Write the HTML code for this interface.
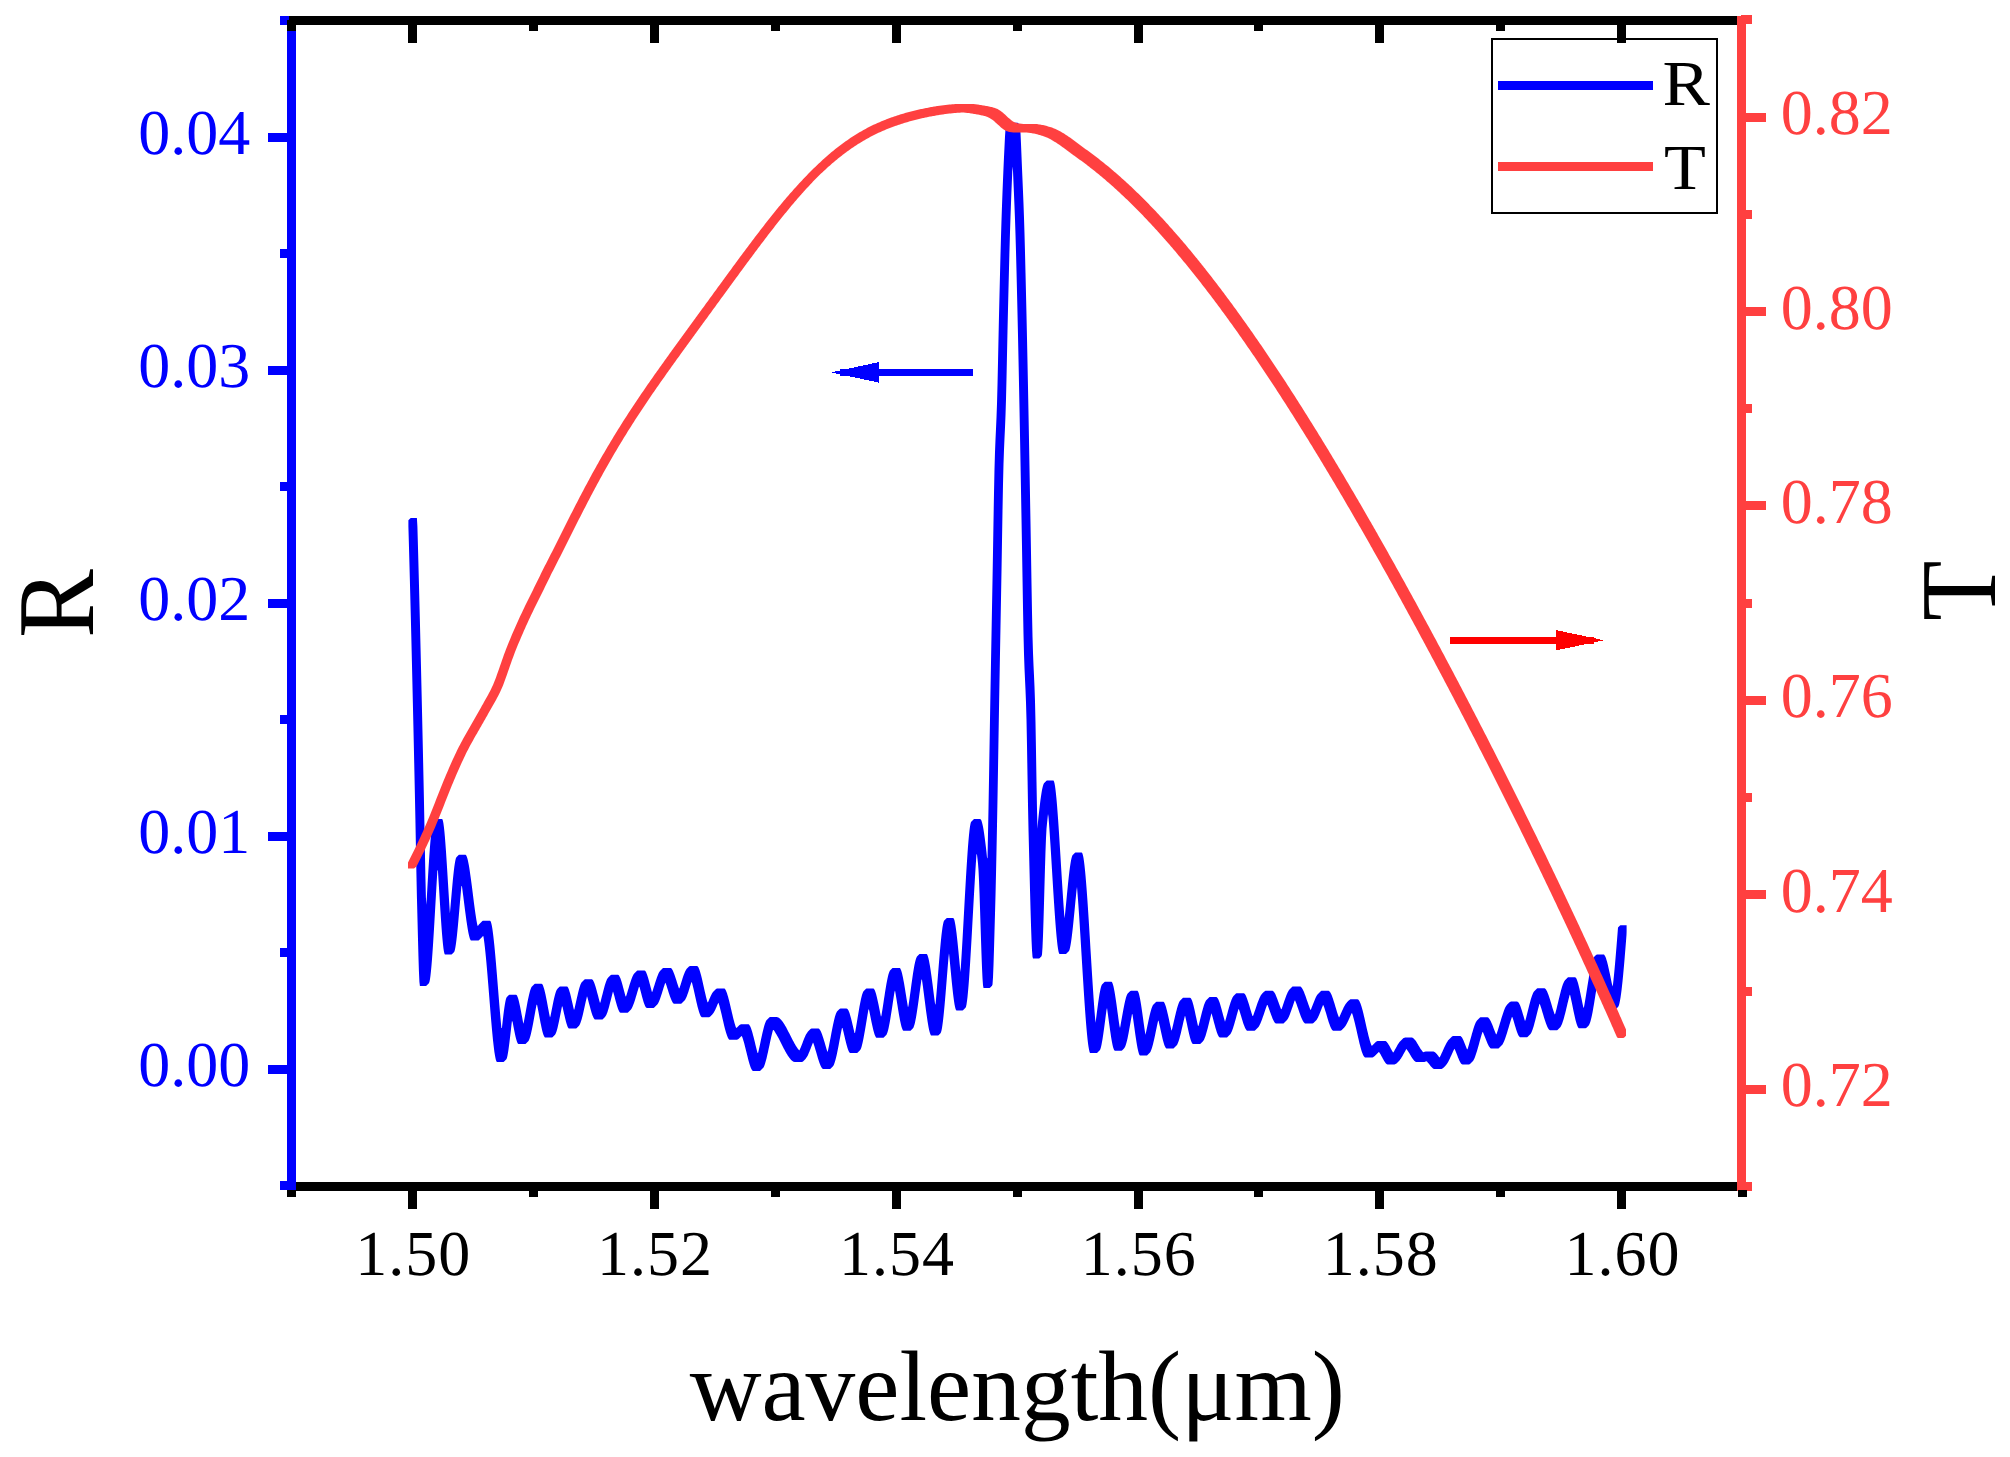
<!DOCTYPE html>
<html lang="en"><head><meta charset="utf-8"><title>R and T vs wavelength</title>
<style>html,body{margin:0;padding:0;background:#fff}body{width:2010px;height:1457px;overflow:hidden}svg{display:block}</style>
</head><body>
<svg width="2010" height="1457" viewBox="0 0 2010 1457" shape-rendering="crispEdges">
<rect width="2010" height="1457" fill="#fff"/>
<g shape-rendering="geometricPrecision" stroke="none">
<path d="M408.4,520.2 L408.9,519.7 L409.4,519.2 L409.9,518.7 L410.4,518.2 L410.9,517.9 L411.4,517.9 L411.9,517.9 L412.4,517.9 L412.9,517.9 L413.4,517.9 L413.9,517.9 L414.4,517.9 L414.9,517.9 L415.4,517.9 L415.9,517.9 L416.4,517.9 L416.9,517.9 L417.4,526.6 L417.9,544.6 L418.4,563.1 L418.9,582.1 L419.4,601.6 L419.9,621.6 L420.4,642.3 L420.9,663.3 L421.4,684.8 L421.9,706.6 L422.4,728.7 L422.9,751.3 L423.4,774.4 L423.9,798.1 L424.4,823.9 L424.9,850.9 L425.4,876.4 L425.9,897.5 L426.4,904.8 L426.9,896.1 L427.4,887.3 L427.9,878.8 L428.4,870.4 L428.9,862.4 L429.4,854.8 L429.9,847.8 L430.4,841.4 L430.9,835.7 L431.4,830.8 L431.9,826.9 L432.4,823.9 L432.9,822.1 L433.4,821.4 L433.9,820.9 L434.4,820.4 L434.9,819.9 L435.4,819.4 L435.9,819.1 L436.4,819.1 L436.9,819.1 L437.4,819.1 L437.9,819.1 L438.4,819.1 L438.9,819.1 L439.4,819.1 L439.9,819.1 L440.4,819.1 L440.9,819.1 L441.4,819.1 L441.9,819.1 L442.4,819.3 L442.9,820.7 L443.4,823.2 L443.9,826.9 L444.4,831.6 L444.9,837.1 L445.4,843.4 L445.9,850.3 L446.4,857.7 L446.9,865.5 L447.4,873.5 L447.9,881.7 L448.4,889.9 L448.9,897.9 L449.4,905.8 L449.9,913.2 L450.4,907.8 L450.9,902.0 L451.4,896.2 L451.9,890.5 L452.4,884.9 L452.9,879.6 L453.4,874.7 L453.9,870.2 L454.4,866.2 L454.9,862.9 L455.4,860.2 L455.9,858.3 L456.4,857.2 L456.9,856.7 L457.4,856.2 L457.9,855.7 L458.4,855.2 L458.9,854.8 L459.4,854.8 L459.9,854.8 L460.4,854.8 L460.9,854.8 L461.4,854.8 L461.9,854.8 L462.4,854.8 L462.9,854.8 L463.4,854.8 L463.9,854.8 L464.4,854.8 L464.9,854.8 L465.4,854.8 L465.9,855.0 L466.4,855.7 L466.9,856.9 L467.4,858.5 L467.9,860.5 L468.4,862.9 L468.9,865.6 L469.4,868.6 L469.9,871.9 L470.4,875.4 L470.9,879.0 L471.4,882.8 L471.9,886.6 L472.4,890.6 L472.9,894.5 L473.4,898.5 L473.9,902.4 L474.4,906.2 L474.9,909.9 L475.4,913.4 L475.9,916.8 L476.4,919.9 L476.9,922.7 L477.4,925.2 L477.9,925.9 L478.4,925.2 L478.9,924.5 L479.4,923.9 L479.9,923.4 L480.4,922.9 L480.9,922.4 L481.4,921.9 L481.9,921.4 L482.4,921.1 L482.9,920.8 L483.4,920.7 L483.9,920.7 L484.4,920.7 L484.9,920.7 L485.4,920.7 L485.9,920.7 L486.4,920.7 L486.9,920.7 L487.4,920.7 L487.9,920.7 L488.4,920.7 L488.9,920.7 L489.4,920.7 L489.9,920.7 L490.4,921.0 L490.9,922.0 L491.4,923.8 L491.9,926.1 L492.4,929.1 L492.9,932.7 L493.4,936.7 L493.9,941.2 L494.4,946.0 L494.9,951.2 L495.4,956.7 L495.9,962.5 L496.4,968.4 L496.9,974.5 L497.4,980.7 L497.9,987.0 L498.4,993.3 L498.9,999.5 L499.4,1005.6 L499.9,1011.5 L500.4,1017.3 L500.9,1022.8 L501.4,1028.0 L501.9,1028.1 L502.4,1023.7 L502.9,1019.3 L503.4,1015.1 L503.9,1011.1 L504.4,1007.5 L504.9,1004.2 L505.4,1001.5 L505.9,999.3 L506.4,997.8 L506.9,997.0 L507.4,996.5 L507.9,996.0 L508.4,995.5 L508.9,995.0 L509.4,994.7 L509.9,994.7 L510.4,994.7 L510.9,994.7 L511.4,994.7 L511.9,994.7 L512.5,994.7 L513.0,994.7 L513.5,994.7 L514.0,994.7 L514.5,994.7 L515.0,994.7 L515.5,994.7 L516.0,994.7 L516.5,994.9 L517.0,995.6 L517.5,996.7 L518.0,998.1 L518.5,999.8 L519.0,1001.7 L519.5,1003.9 L520.0,1006.3 L520.5,1008.8 L521.0,1011.3 L521.5,1014.0 L522.0,1016.6 L522.5,1019.3 L523.0,1021.9 L523.5,1023.7 L524.0,1021.1 L524.5,1018.5 L525.0,1015.8 L525.5,1013.0 L526.0,1010.2 L526.5,1007.5 L527.0,1004.8 L527.5,1002.1 L528.0,999.6 L528.5,997.2 L529.0,995.0 L529.5,992.9 L530.0,991.1 L530.5,989.5 L531.0,988.2 L531.5,987.1 L532.0,986.4 L532.5,985.9 L533.0,985.4 L533.5,984.9 L534.0,984.4 L534.5,984.0 L535.0,983.8 L535.5,983.8 L536.0,983.8 L536.5,983.8 L537.0,983.8 L537.5,983.8 L538.0,983.8 L538.5,983.8 L539.0,983.8 L539.5,983.8 L540.0,983.8 L540.5,983.8 L541.0,983.8 L541.5,983.8 L542.0,984.0 L542.5,984.6 L543.0,985.6 L543.5,986.9 L544.0,988.5 L544.5,990.3 L545.0,992.4 L545.5,994.6 L546.0,997.0 L546.5,999.5 L547.0,1002.1 L547.5,1004.7 L548.0,1007.4 L548.5,1010.1 L549.0,1012.7 L549.5,1015.2 L550.0,1017.6 L550.5,1016.0 L551.0,1013.5 L551.5,1011.0 L552.0,1008.4 L552.5,1005.9 L553.0,1003.5 L553.5,1001.1 L554.0,998.8 L554.5,996.7 L555.0,994.7 L555.5,993.0 L556.0,991.5 L556.5,990.3 L557.0,989.4 L557.5,988.8 L558.0,988.3 L558.5,987.8 L559.0,987.3 L559.5,986.8 L560.0,986.4 L560.5,986.4 L561.0,986.4 L561.5,986.4 L562.0,986.4 L562.5,986.4 L563.0,986.4 L563.5,986.4 L564.0,986.4 L564.5,986.4 L565.0,986.4 L565.5,986.4 L566.0,986.4 L566.5,986.4 L567.0,986.4 L567.5,986.8 L568.0,987.5 L568.5,988.5 L569.0,989.8 L569.5,991.4 L570.0,993.1 L570.5,995.0 L571.0,997.0 L571.5,999.2 L572.0,1001.4 L572.5,1003.6 L573.0,1005.8 L573.5,1008.0 L574.0,1010.1 L574.5,1008.8 L575.0,1006.6 L575.5,1004.3 L576.0,1002.1 L576.5,999.8 L577.0,997.6 L577.5,995.4 L578.0,993.3 L578.5,991.2 L579.0,989.3 L579.5,987.6 L580.0,986.0 L580.5,984.6 L581.0,983.4 L581.5,982.5 L582.0,981.9 L582.5,981.4 L583.0,980.9 L583.5,980.4 L584.0,979.9 L584.5,979.4 L585.0,979.2 L585.5,979.2 L586.0,979.2 L586.5,979.2 L587.0,979.2 L587.5,979.2 L588.0,979.2 L588.5,979.2 L589.0,979.2 L589.5,979.2 L590.0,979.2 L590.5,979.2 L591.0,979.2 L591.5,979.2 L592.0,979.3 L592.5,979.7 L593.0,980.3 L593.5,981.2 L594.0,982.3 L594.5,983.6 L595.0,985.0 L595.5,986.6 L596.0,988.2 L596.5,990.0 L597.0,991.9 L597.5,993.7 L598.0,995.6 L598.5,997.5 L599.0,999.4 L599.5,1001.2 L600.0,1002.9 L600.5,1001.9 L601.0,1000.0 L601.5,998.1 L602.0,996.1 L602.5,994.2 L603.0,992.2 L603.5,990.3 L604.0,988.4 L604.5,986.6 L605.0,984.8 L605.5,983.2 L606.0,981.8 L606.5,980.5 L607.0,979.3 L607.5,978.4 L608.0,977.7 L608.5,977.2 L609.0,976.7 L609.5,976.2 L610.0,975.7 L610.5,975.2 L611.0,974.9 L611.5,974.8 L612.0,974.8 L612.5,974.8 L613.0,974.8 L613.5,974.8 L614.0,974.8 L614.5,974.8 L615.0,974.8 L615.5,974.8 L616.0,974.8 L616.5,974.8 L617.0,974.8 L617.5,974.8 L618.0,974.8 L618.5,975.0 L619.0,975.6 L619.5,976.4 L620.0,977.4 L620.5,978.6 L621.0,980.1 L621.5,981.6 L622.0,983.3 L622.5,985.1 L623.0,986.9 L623.5,988.8 L624.0,990.7 L624.5,992.6 L625.0,994.4 L625.5,996.2 L626.0,996.6 L626.5,995.0 L627.0,993.4 L627.5,991.7 L628.0,990.1 L628.5,988.4 L629.0,986.7 L629.5,985.0 L630.0,983.4 L630.5,981.9 L631.0,980.4 L631.5,979.0 L632.0,977.7 L632.5,976.5 L633.0,975.5 L633.5,974.6 L634.0,973.8 L634.5,973.3 L635.0,972.8 L635.5,972.3 L636.0,971.8 L636.5,971.3 L637.0,970.8 L637.5,970.6 L638.0,970.5 L638.5,970.5 L639.0,970.5 L639.5,970.5 L640.0,970.5 L640.5,970.5 L641.0,970.5 L641.5,970.5 L642.0,970.5 L642.5,970.5 L643.0,970.5 L643.5,970.5 L644.0,970.5 L644.5,970.5 L645.0,970.7 L645.5,971.3 L646.0,972.1 L646.5,973.2 L647.0,974.5 L647.5,975.9 L648.0,977.5 L648.5,979.3 L649.0,981.1 L649.5,982.9 L650.0,984.8 L650.5,986.8 L651.0,988.6 L651.5,990.4 L652.0,992.2 L652.5,991.2 L653.0,989.7 L653.5,988.1 L654.0,986.5 L654.5,984.9 L655.0,983.3 L655.5,981.7 L656.0,980.2 L656.5,978.7 L657.0,977.3 L657.5,975.9 L658.0,974.7 L658.5,973.6 L659.0,972.6 L659.5,971.8 L660.0,971.1 L660.5,970.6 L661.0,970.1 L661.5,969.6 L662.0,969.1 L662.5,968.6 L663.0,968.1 L663.5,967.9 L664.0,967.9 L664.5,967.9 L665.0,967.9 L665.5,967.9 L666.0,967.9 L666.5,967.9 L667.0,967.9 L667.5,967.9 L668.0,967.9 L668.5,967.9 L669.0,967.9 L669.5,967.9 L670.0,967.9 L670.5,967.9 L671.0,968.1 L671.5,968.6 L672.0,969.2 L672.5,970.0 L673.0,971.0 L673.5,972.2 L674.0,973.4 L674.5,974.8 L675.0,976.2 L675.5,977.7 L676.0,979.2 L676.5,980.8 L677.0,982.4 L677.5,984.0 L678.0,985.5 L678.5,987.0 L679.0,988.4 L679.5,988.1 L680.0,986.6 L680.5,985.0 L681.0,983.4 L681.5,981.8 L682.0,980.2 L682.5,978.6 L683.0,977.1 L683.5,975.6 L684.0,974.2 L684.5,973.0 L685.0,971.8 L685.5,970.7 L686.0,969.9 L686.5,969.1 L687.0,968.6 L687.5,968.1 L688.0,967.6 L688.5,967.1 L689.0,966.6 L689.5,966.2 L690.0,965.9 L690.5,965.9 L691.0,965.9 L691.5,965.9 L692.0,965.9 L692.5,965.9 L693.0,965.9 L693.5,965.9 L694.0,965.9 L694.5,965.9 L695.0,965.9 L695.5,965.9 L696.0,965.9 L696.5,965.9 L697.0,965.9 L697.5,966.2 L698.0,966.8 L698.5,967.6 L699.0,968.7 L699.5,970.0 L700.0,971.5 L700.5,973.2 L701.0,975.1 L701.5,977.0 L702.0,979.1 L702.5,981.2 L703.0,983.4 L703.5,985.7 L704.0,987.9 L704.5,990.2 L705.0,992.4 L705.5,994.6 L706.0,996.7 L706.5,998.7 L707.0,1000.6 L707.5,1002.3 L708.0,1002.3 L708.5,1001.2 L709.0,1000.0 L709.5,998.8 L710.0,997.7 L710.5,996.6 L711.0,995.5 L711.5,994.5 L712.0,993.6 L712.5,992.8 L713.0,992.1 L713.5,991.5 L714.0,991.0 L714.5,990.5 L715.0,990.0 L715.5,989.5 L716.0,989.0 L716.5,988.7 L717.0,988.4 L717.5,988.4 L718.0,988.4 L718.5,988.4 L719.0,988.4 L719.5,988.4 L720.0,988.4 L720.5,988.4 L721.0,988.4 L721.5,988.4 L722.0,988.4 L722.5,988.4 L723.0,988.4 L723.5,988.4 L724.0,988.4 L724.5,988.6 L725.0,989.1 L725.5,989.8 L726.0,990.8 L726.5,992.0 L727.0,993.3 L727.5,994.9 L728.0,996.6 L728.5,998.4 L729.0,1000.3 L729.5,1002.3 L730.0,1004.4 L730.5,1006.5 L731.0,1008.7 L731.5,1010.8 L732.0,1013.0 L732.5,1015.1 L733.0,1017.2 L733.5,1019.2 L734.0,1021.1 L734.5,1022.9 L735.0,1024.6 L735.5,1026.2 L736.0,1027.5 L736.5,1028.0 L737.0,1027.5 L737.5,1027.0 L738.0,1026.5 L738.5,1026.0 L739.0,1025.5 L739.5,1025.1 L740.0,1024.8 L740.5,1024.5 L741.0,1024.3 L741.5,1024.2 L742.0,1024.2 L742.5,1024.2 L743.0,1024.2 L743.5,1024.2 L744.0,1024.2 L744.5,1024.2 L745.0,1024.2 L745.5,1024.2 L746.0,1024.2 L746.5,1024.2 L747.0,1024.2 L747.5,1024.2 L748.0,1024.2 L748.5,1024.2 L749.0,1024.6 L749.5,1025.2 L750.0,1026.0 L750.5,1027.1 L751.0,1028.3 L751.5,1029.7 L752.0,1031.3 L752.5,1033.0 L753.0,1034.9 L753.5,1036.8 L754.0,1038.8 L754.5,1040.8 L755.0,1042.8 L755.5,1044.9 L756.0,1046.9 L756.5,1048.9 L757.0,1050.9 L757.5,1052.8 L758.0,1053.3 L758.5,1051.2 L759.0,1049.0 L759.5,1046.7 L760.0,1044.4 L760.5,1042.0 L761.0,1039.6 L761.5,1037.3 L762.0,1035.0 L762.5,1032.8 L763.0,1030.7 L763.5,1028.7 L764.0,1026.8 L764.5,1025.1 L765.0,1023.5 L765.5,1022.2 L766.0,1021.1 L766.5,1020.2 L767.0,1019.7 L767.5,1019.2 L768.0,1018.7 L768.5,1018.2 L769.0,1017.7 L769.5,1017.2 L770.0,1017.1 L770.5,1017.1 L771.0,1017.1 L771.5,1017.1 L772.0,1017.1 L772.5,1017.1 L773.0,1017.1 L773.5,1017.1 L774.0,1017.1 L774.5,1017.1 L775.0,1017.1 L775.5,1017.1 L776.0,1017.1 L776.5,1017.1 L777.0,1017.1 L777.5,1017.2 L778.0,1017.4 L778.5,1017.6 L779.0,1017.9 L779.5,1018.3 L780.0,1018.7 L780.5,1019.2 L781.0,1019.7 L781.5,1020.3 L782.0,1020.9 L782.5,1021.5 L783.0,1022.2 L783.5,1023.0 L784.0,1023.8 L784.5,1024.6 L785.0,1025.4 L785.5,1026.3 L786.0,1027.1 L786.5,1028.1 L787.0,1029.0 L787.5,1029.9 L788.0,1030.9 L788.5,1031.9 L789.0,1032.8 L789.5,1033.8 L790.0,1034.8 L790.5,1035.8 L791.0,1036.8 L791.5,1037.8 L792.0,1038.7 L792.5,1039.7 L793.0,1040.7 L793.5,1041.6 L794.0,1042.5 L794.5,1043.4 L795.0,1044.3 L795.5,1045.2 L796.0,1046.0 L796.5,1046.8 L797.0,1047.6 L797.5,1048.3 L798.0,1049.0 L798.5,1049.6 L799.0,1050.2 L799.5,1050.3 L800.0,1049.1 L800.5,1048.0 L801.0,1046.7 L801.5,1045.5 L802.0,1044.2 L802.5,1042.9 L803.0,1041.6 L803.5,1040.3 L804.0,1039.0 L804.5,1037.8 L805.0,1036.7 L805.5,1035.6 L806.0,1034.6 L806.5,1033.7 L807.0,1032.9 L807.5,1032.2 L808.0,1031.6 L808.5,1031.1 L809.0,1030.6 L809.5,1030.1 L810.0,1029.6 L810.5,1029.1 L811.0,1028.8 L811.5,1028.6 L812.0,1028.6 L812.5,1028.6 L813.0,1028.6 L813.5,1028.6 L814.0,1028.6 L814.5,1028.6 L815.0,1028.6 L815.5,1028.6 L816.0,1028.6 L816.5,1028.6 L817.0,1028.6 L817.5,1028.6 L818.0,1028.6 L818.5,1028.6 L819.0,1028.8 L819.5,1029.3 L820.0,1029.9 L820.5,1030.8 L821.0,1031.8 L821.5,1033.0 L822.0,1034.2 L822.5,1035.7 L823.0,1037.2 L823.5,1038.7 L824.0,1040.4 L824.5,1042.1 L825.0,1043.8 L825.5,1045.5 L826.0,1047.2 L826.5,1048.9 L827.0,1050.5 L827.5,1052.1 L828.0,1050.5 L828.5,1048.1 L829.0,1045.7 L829.5,1043.1 L830.0,1040.5 L830.5,1037.9 L831.0,1035.2 L831.5,1032.6 L832.0,1030.0 L832.5,1027.4 L833.0,1025.0 L833.5,1022.7 L834.0,1020.5 L834.5,1018.4 L835.0,1016.6 L835.5,1015.0 L836.0,1013.6 L836.5,1012.5 L837.0,1011.6 L837.5,1011.1 L838.0,1010.6 L838.5,1010.1 L839.0,1009.6 L839.5,1009.1 L840.0,1008.7 L840.5,1008.6 L841.0,1008.6 L841.5,1008.6 L842.0,1008.6 L842.5,1008.6 L843.0,1008.6 L843.5,1008.6 L844.0,1008.6 L844.5,1008.6 L845.0,1008.6 L845.5,1008.6 L846.0,1008.6 L846.5,1008.6 L847.0,1008.7 L847.5,1009.0 L848.0,1009.7 L848.5,1010.6 L849.0,1011.7 L849.5,1013.1 L850.0,1014.7 L850.5,1016.4 L851.0,1018.3 L851.5,1020.2 L852.0,1022.3 L852.5,1024.4 L853.0,1026.5 L853.5,1028.7 L854.0,1030.8 L854.5,1032.9 L855.0,1032.9 L855.5,1030.2 L856.0,1027.4 L856.5,1024.4 L857.0,1021.4 L857.5,1018.4 L858.0,1015.4 L858.5,1012.4 L859.0,1009.5 L859.5,1006.6 L860.0,1004.0 L860.5,1001.4 L861.0,999.1 L861.5,997.0 L862.0,995.1 L862.5,993.5 L863.0,992.2 L863.5,991.3 L864.0,990.8 L864.5,990.3 L865.0,989.8 L865.5,989.3 L866.0,988.8 L866.5,988.4 L867.0,988.4 L867.5,988.4 L868.0,988.4 L868.5,988.4 L869.0,988.4 L869.5,988.4 L870.0,988.4 L870.5,988.4 L871.0,988.4 L871.5,988.4 L872.0,988.4 L872.5,988.4 L873.0,988.4 L873.5,988.4 L874.0,988.9 L874.5,989.7 L875.0,990.8 L875.5,992.2 L876.0,993.8 L876.5,995.7 L877.0,997.7 L877.5,999.9 L878.0,1002.2 L878.5,1004.6 L879.0,1007.0 L879.5,1009.5 L880.0,1011.9 L880.5,1014.4 L881.0,1016.7 L881.5,1015.2 L882.0,1012.1 L882.5,1009.0 L883.0,1005.7 L883.5,1002.5 L884.0,999.1 L884.5,995.9 L885.0,992.6 L885.5,989.5 L886.0,986.4 L886.5,983.6 L887.0,980.9 L887.5,978.4 L888.0,976.2 L888.5,974.3 L889.0,972.7 L889.5,971.4 L890.0,970.6 L890.5,970.1 L891.0,969.6 L891.5,969.1 L892.0,968.6 L892.5,968.1 L893.0,967.9 L893.5,967.9 L894.0,967.9 L894.5,967.9 L895.0,967.9 L895.5,967.9 L896.0,967.9 L896.5,967.9 L897.0,967.9 L897.5,967.9 L898.0,967.9 L898.5,967.9 L899.0,967.9 L899.5,967.9 L900.0,968.1 L900.5,968.9 L901.0,970.0 L901.5,971.5 L902.0,973.3 L902.5,975.4 L903.0,977.8 L903.5,980.4 L904.0,983.1 L904.5,986.1 L905.0,989.1 L905.5,992.2 L906.0,995.3 L906.5,998.4 L907.0,1001.5 L907.5,1004.5 L908.0,1007.4 L908.5,1005.6 L909.0,1002.2 L909.5,998.7 L910.0,995.1 L910.5,991.4 L911.0,987.7 L911.5,984.1 L912.0,980.5 L912.5,977.0 L913.0,973.6 L913.5,970.5 L914.0,967.5 L914.5,964.8 L915.0,962.4 L915.5,960.4 L916.0,958.7 L916.5,957.4 L917.0,956.5 L917.5,956.0 L918.0,955.5 L918.5,955.0 L919.0,954.5 L919.5,954.0 L920.0,953.9 L920.5,953.9 L921.0,953.9 L921.5,953.9 L922.0,953.9 L922.5,953.9 L923.0,953.9 L923.5,953.9 L924.0,953.9 L924.5,953.9 L925.0,953.9 L925.5,953.9 L926.0,953.9 L926.5,953.9 L927.0,954.3 L927.5,955.3 L928.0,956.7 L928.5,958.6 L929.0,960.8 L929.5,963.4 L930.0,966.3 L930.5,969.5 L931.0,972.9 L931.5,976.5 L932.0,980.3 L932.5,984.1 L933.0,988.0 L933.5,992.0 L934.0,995.9 L934.5,999.8 L935.0,1003.5 L935.5,1004.7 L936.0,999.1 L936.5,993.3 L937.0,987.3 L937.5,981.1 L938.0,974.8 L938.5,968.5 L939.0,962.3 L939.5,956.3 L940.0,950.5 L940.5,944.9 L941.0,939.8 L941.5,935.1 L942.0,930.9 L942.5,927.3 L943.0,924.4 L943.5,922.2 L944.0,920.8 L944.5,920.2 L945.0,919.7 L945.5,919.2 L946.0,918.7 L946.5,918.2 L947.0,918.0 L947.5,918.0 L948.0,918.0 L948.5,918.0 L949.0,918.0 L949.5,918.0 L950.0,918.0 L950.5,918.0 L951.0,918.0 L951.5,918.0 L952.0,918.0 L952.5,918.0 L953.0,918.0 L953.5,918.2 L954.0,919.0 L954.5,920.6 L955.0,922.9 L955.5,925.8 L956.0,929.2 L956.5,933.1 L957.0,937.4 L957.5,942.1 L958.0,947.0 L958.5,952.1 L959.0,957.2 L959.5,962.5 L960.0,967.6 L960.5,971.9 L961.0,964.5 L961.5,956.6 L962.0,948.3 L962.5,939.7 L963.0,930.8 L963.5,921.8 L964.0,912.7 L964.5,903.6 L965.0,894.6 L965.5,885.7 L966.0,877.1 L966.5,868.8 L967.0,860.9 L967.5,853.5 L968.0,846.6 L968.5,840.4 L969.0,835.0 L969.5,830.3 L970.0,826.6 L970.5,823.8 L971.0,822.0 L971.5,821.4 L972.0,820.9 L972.5,820.4 L973.0,819.9 L973.5,819.4 L974.0,819.1 L974.5,819.1 L975.0,819.1 L975.5,819.1 L976.0,819.1 L976.5,819.1 L977.0,819.1 L977.5,819.1 L978.0,819.1 L978.5,819.1 L979.0,819.1 L979.5,819.1 L980.0,819.1 L980.5,819.2 L981.0,819.8 L981.5,820.8 L982.0,822.4 L982.5,824.4 L983.0,826.8 L983.5,829.6 L984.0,832.8 L984.5,836.2 L985.0,839.9 L985.5,843.9 L986.0,848.1 L986.5,852.4 L987.0,857.4 L987.5,858.4 L988.0,834.0 L988.5,808.5 L989.0,779.9 L989.5,749.5 L990.0,719.0 L990.5,690.3 L991.0,662.5 L991.5,635.2 L992.0,608.1 L992.5,580.9 L993.0,552.0 L993.5,521.6 L994.0,493.0 L994.5,469.0 L995.0,452.0 L995.5,439.5 L996.0,428.8 L996.5,417.6 L997.0,403.7 L997.5,385.0 L998.0,362.5 L998.5,338.5 L999.0,315.4 L999.5,294.7 L1000.0,274.3 L1000.5,254.6 L1001.0,236.4 L1001.5,220.2 L1002.0,205.7 L1002.5,192.3 L1003.0,179.9 L1003.5,168.1 L1004.0,157.0 L1004.5,146.8 L1005.0,136.5 L1005.5,128.9 L1006.0,127.6 L1006.5,126.5 L1007.0,125.8 L1007.5,125.2 L1008.0,124.7 L1008.5,124.2 L1009.0,123.7 L1009.5,123.2 L1010.0,122.9 L1010.5,122.7 L1011.0,122.7 L1011.5,122.7 L1012.0,122.7 L1012.5,122.7 L1013.0,122.7 L1013.5,122.7 L1014.0,122.7 L1014.5,122.7 L1015.0,122.7 L1015.5,122.7 L1016.0,122.7 L1016.5,122.7 L1017.0,122.7 L1017.5,122.7 L1018.0,122.9 L1018.5,123.4 L1019.0,124.2 L1019.5,125.2 L1020.0,126.5 L1020.5,133.0 L1021.0,143.9 L1021.5,156.2 L1022.0,168.4 L1022.5,180.0 L1023.0,191.7 L1023.5,204.1 L1024.0,217.9 L1024.5,234.0 L1025.0,252.5 L1025.5,272.7 L1026.0,293.9 L1026.5,315.6 L1027.0,338.5 L1027.5,362.7 L1028.0,387.6 L1028.5,413.2 L1029.0,440.0 L1029.5,467.8 L1030.0,495.8 L1030.5,523.6 L1031.0,553.2 L1031.5,583.9 L1032.0,612.6 L1032.5,636.3 L1033.0,652.9 L1033.5,665.3 L1034.0,675.8 L1034.5,687.1 L1035.0,701.5 L1035.5,723.0 L1036.0,751.5 L1036.5,782.1 L1037.0,809.6 L1037.5,828.7 L1038.0,822.0 L1038.5,817.1 L1039.0,812.4 L1039.5,807.9 L1040.0,803.7 L1040.5,799.8 L1041.0,796.2 L1041.5,792.9 L1042.0,790.1 L1042.5,787.7 L1043.0,785.7 L1043.5,784.2 L1044.0,783.3 L1044.5,782.7 L1045.0,782.2 L1045.5,781.7 L1046.0,781.2 L1046.5,780.7 L1047.0,780.6 L1047.5,780.6 L1048.0,780.6 L1048.5,780.6 L1049.0,780.6 L1049.5,780.6 L1050.0,780.6 L1050.5,780.6 L1051.0,780.6 L1051.5,780.6 L1052.0,780.6 L1052.5,780.6 L1053.0,780.6 L1053.5,780.6 L1054.0,781.5 L1054.5,783.3 L1055.0,786.1 L1055.5,789.7 L1056.0,794.2 L1056.5,799.3 L1057.0,805.1 L1057.5,811.4 L1058.0,818.2 L1058.5,825.5 L1059.0,833.0 L1059.5,840.9 L1060.0,849.0 L1060.5,857.1 L1061.0,865.4 L1061.5,873.6 L1062.0,881.7 L1062.5,889.6 L1063.0,897.3 L1063.5,904.7 L1064.0,911.7 L1064.5,918.3 L1065.0,914.6 L1065.5,909.5 L1066.0,904.4 L1066.5,899.2 L1067.0,894.0 L1067.5,888.9 L1068.0,884.0 L1068.5,879.3 L1069.0,874.8 L1069.5,870.6 L1070.0,866.8 L1070.5,863.4 L1071.0,860.5 L1071.5,858.2 L1072.0,856.4 L1072.5,855.3 L1073.0,854.8 L1073.5,854.3 L1074.0,853.8 L1074.5,853.3 L1075.0,852.8 L1075.5,852.6 L1076.0,852.6 L1076.5,852.6 L1077.0,852.6 L1077.5,852.6 L1078.0,852.6 L1078.5,852.6 L1079.0,852.6 L1079.5,852.6 L1080.0,852.6 L1080.5,852.6 L1081.0,852.6 L1081.5,852.6 L1082.0,852.8 L1082.5,853.7 L1083.0,855.5 L1083.5,858.1 L1084.0,861.4 L1084.5,865.5 L1085.0,870.2 L1085.5,875.5 L1086.0,881.4 L1086.5,887.7 L1087.0,894.5 L1087.5,901.6 L1088.0,909.1 L1088.5,916.8 L1089.0,924.8 L1089.5,932.9 L1090.0,941.1 L1090.5,949.4 L1091.0,957.6 L1091.5,965.8 L1092.0,973.9 L1092.5,981.8 L1093.0,989.5 L1093.5,996.9 L1094.0,1004.0 L1094.5,1010.7 L1095.0,1016.9 L1095.5,1022.7 L1096.0,1019.2 L1096.5,1015.4 L1097.0,1011.6 L1097.5,1007.8 L1098.0,1004.1 L1098.5,1000.5 L1099.0,997.2 L1099.5,994.1 L1100.0,991.4 L1100.5,989.0 L1101.0,987.0 L1101.5,985.5 L1102.0,984.5 L1102.5,984.0 L1103.0,983.5 L1103.5,983.0 L1104.0,982.5 L1104.5,982.0 L1105.0,981.8 L1105.5,981.8 L1106.0,981.8 L1106.5,981.8 L1107.0,981.8 L1107.5,981.8 L1108.0,981.8 L1108.5,981.8 L1109.0,981.8 L1109.5,981.8 L1110.0,981.8 L1110.5,981.8 L1111.0,981.8 L1111.5,981.8 L1112.0,982.2 L1112.5,983.2 L1113.0,984.7 L1113.5,986.6 L1114.0,988.9 L1114.5,991.6 L1115.0,994.5 L1115.5,997.7 L1116.0,1001.1 L1116.5,1004.6 L1117.0,1008.2 L1117.5,1011.9 L1118.0,1015.6 L1118.5,1019.2 L1119.0,1022.7 L1119.5,1026.1 L1120.0,1028.1 L1120.5,1025.4 L1121.0,1022.6 L1121.5,1019.8 L1122.0,1017.0 L1122.5,1014.2 L1123.0,1011.4 L1123.5,1008.8 L1124.0,1006.2 L1124.5,1003.8 L1125.0,1001.5 L1125.5,999.4 L1126.0,997.6 L1126.5,996.1 L1127.0,994.8 L1127.5,993.8 L1128.0,993.2 L1128.5,992.7 L1129.0,992.2 L1129.5,991.7 L1130.0,991.2 L1130.5,990.9 L1131.0,990.8 L1131.5,990.8 L1132.0,990.8 L1132.5,990.8 L1133.0,990.8 L1133.5,990.8 L1134.0,990.8 L1134.5,990.8 L1135.0,990.8 L1135.5,990.8 L1136.0,990.8 L1136.5,990.8 L1137.0,990.8 L1137.5,990.8 L1138.0,991.4 L1138.5,992.5 L1139.0,994.1 L1139.5,996.2 L1140.0,998.6 L1140.5,1001.3 L1141.0,1004.3 L1141.5,1007.6 L1142.0,1011.0 L1142.5,1014.5 L1143.0,1018.1 L1143.5,1021.7 L1144.0,1025.2 L1144.5,1028.7 L1145.0,1032.0 L1145.5,1034.8 L1146.0,1032.5 L1146.5,1030.1 L1147.0,1027.8 L1147.5,1025.3 L1148.0,1023.0 L1148.5,1020.6 L1149.0,1018.3 L1149.5,1016.1 L1150.0,1014.0 L1150.5,1012.0 L1151.0,1010.2 L1151.5,1008.6 L1152.0,1007.2 L1152.5,1006.0 L1153.0,1005.0 L1153.5,1004.4 L1154.0,1003.9 L1154.5,1003.4 L1155.0,1002.9 L1155.5,1002.4 L1156.0,1001.9 L1156.5,1001.7 L1157.0,1001.7 L1157.5,1001.7 L1158.0,1001.7 L1158.5,1001.7 L1159.0,1001.7 L1159.5,1001.7 L1160.0,1001.7 L1160.5,1001.7 L1161.0,1001.7 L1161.5,1001.7 L1162.0,1001.7 L1162.5,1001.7 L1163.0,1001.7 L1163.5,1001.8 L1164.0,1002.3 L1164.5,1003.1 L1165.0,1004.2 L1165.5,1005.5 L1166.0,1007.1 L1166.5,1008.9 L1167.0,1010.8 L1167.5,1012.9 L1168.0,1015.1 L1168.5,1017.3 L1169.0,1019.6 L1169.5,1021.9 L1170.0,1024.2 L1170.5,1026.4 L1171.0,1028.6 L1171.5,1030.7 L1172.0,1029.4 L1172.5,1027.3 L1173.0,1025.2 L1173.5,1023.0 L1174.0,1020.8 L1174.5,1018.7 L1175.0,1016.5 L1175.5,1014.4 L1176.0,1012.3 L1176.5,1010.4 L1177.0,1008.5 L1177.5,1006.8 L1178.0,1005.2 L1178.5,1003.8 L1179.0,1002.6 L1179.5,1001.6 L1180.0,1000.8 L1180.5,1000.2 L1181.0,999.7 L1181.5,999.2 L1182.0,998.7 L1182.5,998.2 L1183.0,997.8 L1183.5,997.7 L1184.0,997.7 L1184.5,997.7 L1185.0,997.7 L1185.5,997.7 L1186.0,997.7 L1186.5,997.7 L1187.0,997.7 L1187.5,997.7 L1188.0,997.7 L1188.5,997.7 L1189.0,997.7 L1189.5,997.7 L1190.0,997.7 L1190.5,997.9 L1191.0,998.5 L1191.5,999.4 L1192.0,1000.6 L1192.5,1002.0 L1193.0,1003.7 L1193.5,1005.6 L1194.0,1007.7 L1194.5,1009.8 L1195.0,1012.1 L1195.5,1014.4 L1196.0,1016.8 L1196.5,1019.1 L1197.0,1021.5 L1197.5,1023.7 L1198.0,1025.9 L1198.5,1025.8 L1199.0,1023.9 L1199.5,1022.0 L1200.0,1020.0 L1200.5,1017.9 L1201.0,1015.9 L1201.5,1014.0 L1202.0,1012.0 L1202.5,1010.2 L1203.0,1008.4 L1203.5,1006.7 L1204.0,1005.1 L1204.5,1003.7 L1205.0,1002.5 L1205.5,1001.4 L1206.0,1000.5 L1206.5,999.9 L1207.0,999.4 L1207.5,998.9 L1208.0,998.4 L1208.5,997.9 L1209.0,997.4 L1209.5,997.1 L1210.0,997.0 L1210.5,997.0 L1211.0,997.0 L1211.5,997.0 L1212.0,997.0 L1212.5,997.0 L1213.0,997.0 L1213.5,997.0 L1214.0,997.0 L1214.5,997.0 L1215.0,997.0 L1215.5,997.0 L1216.0,997.0 L1216.5,997.1 L1217.0,997.4 L1217.5,997.9 L1218.0,998.7 L1218.5,999.7 L1219.0,1000.9 L1219.5,1002.3 L1220.0,1003.8 L1220.5,1005.5 L1221.0,1007.2 L1221.5,1009.0 L1222.0,1010.9 L1222.5,1012.8 L1223.0,1014.7 L1223.5,1016.5 L1224.0,1018.3 L1224.5,1020.1 L1225.0,1021.8 L1225.5,1020.1 L1226.0,1018.4 L1226.5,1016.6 L1227.0,1014.8 L1227.5,1012.9 L1228.0,1011.1 L1228.5,1009.3 L1229.0,1007.5 L1229.5,1005.8 L1230.0,1004.2 L1230.5,1002.6 L1231.0,1001.2 L1231.5,999.8 L1232.0,998.7 L1232.5,997.6 L1233.0,996.8 L1233.5,996.1 L1234.0,995.6 L1234.5,995.1 L1235.0,994.6 L1235.5,994.1 L1236.0,993.6 L1236.5,993.3 L1237.0,993.2 L1237.5,993.2 L1238.0,993.2 L1238.5,993.2 L1239.0,993.2 L1239.5,993.2 L1240.0,993.2 L1240.5,993.2 L1241.0,993.2 L1241.5,993.2 L1242.0,993.2 L1242.5,993.2 L1243.0,993.2 L1243.5,993.2 L1244.0,993.3 L1244.5,993.7 L1245.0,994.3 L1245.5,995.1 L1246.0,996.1 L1246.5,997.2 L1247.0,998.5 L1247.5,999.9 L1248.0,1001.4 L1248.5,1003.0 L1249.0,1004.6 L1249.5,1006.3 L1250.0,1008.0 L1250.5,1009.7 L1251.0,1011.3 L1251.5,1012.9 L1252.0,1014.5 L1252.5,1015.9 L1253.0,1016.0 L1253.5,1014.7 L1254.0,1013.3 L1254.5,1011.8 L1255.0,1010.4 L1255.5,1008.9 L1256.0,1007.4 L1256.5,1005.9 L1257.0,1004.5 L1257.5,1003.1 L1258.0,1001.7 L1258.5,1000.4 L1259.0,999.2 L1259.5,998.0 L1260.0,996.9 L1260.5,996.0 L1261.0,995.1 L1261.5,994.4 L1262.0,993.8 L1262.5,993.3 L1263.0,992.8 L1263.5,992.3 L1264.0,991.8 L1264.5,991.4 L1265.0,991.0 L1265.5,990.8 L1266.0,990.8 L1266.5,990.8 L1267.0,990.8 L1267.5,990.8 L1268.0,990.8 L1268.5,990.8 L1269.0,990.8 L1269.5,990.8 L1270.0,990.8 L1270.5,990.8 L1271.0,990.8 L1271.5,990.8 L1272.0,990.8 L1272.5,990.8 L1273.0,991.0 L1273.5,991.4 L1274.0,992.0 L1274.5,992.7 L1275.0,993.6 L1275.5,994.6 L1276.0,995.7 L1276.5,996.9 L1277.0,998.2 L1277.5,999.5 L1278.0,1000.9 L1278.5,1002.3 L1279.0,1003.7 L1279.5,1005.1 L1280.0,1006.5 L1280.5,1007.8 L1281.0,1009.0 L1281.5,1009.2 L1282.0,1007.9 L1282.5,1006.4 L1283.0,1005.0 L1283.5,1003.5 L1284.0,1002.1 L1284.5,1000.6 L1285.0,999.2 L1285.5,997.8 L1286.0,996.4 L1286.5,995.1 L1287.0,993.9 L1287.5,992.8 L1288.0,991.8 L1288.5,990.9 L1289.0,990.1 L1289.5,989.5 L1290.0,989.0 L1290.5,988.5 L1291.0,988.0 L1291.5,987.5 L1292.0,987.0 L1292.5,986.6 L1293.0,986.4 L1293.5,986.4 L1294.0,986.4 L1294.5,986.4 L1295.0,986.4 L1295.5,986.4 L1296.0,986.4 L1296.5,986.4 L1297.0,986.4 L1297.5,986.4 L1298.0,986.4 L1298.5,986.4 L1299.0,986.4 L1299.5,986.4 L1300.0,986.4 L1300.5,986.6 L1301.0,986.9 L1301.5,987.5 L1302.0,988.2 L1302.5,989.0 L1303.0,989.9 L1303.5,991.0 L1304.0,992.1 L1304.5,993.4 L1305.0,994.7 L1305.5,996.1 L1306.0,997.5 L1306.5,998.9 L1307.0,1000.4 L1307.5,1001.8 L1308.0,1003.3 L1308.5,1004.7 L1309.0,1006.1 L1309.5,1007.4 L1310.0,1008.7 L1310.5,1009.9 L1311.0,1009.4 L1311.5,1008.1 L1312.0,1006.8 L1312.5,1005.5 L1313.0,1004.2 L1313.5,1002.9 L1314.0,1001.7 L1314.5,1000.4 L1315.0,999.2 L1315.5,998.1 L1316.0,997.1 L1316.5,996.1 L1317.0,995.3 L1317.5,994.5 L1318.0,993.9 L1318.5,993.4 L1319.0,992.9 L1319.5,992.4 L1320.0,991.9 L1320.5,991.4 L1321.0,991.1 L1321.5,990.8 L1322.0,990.8 L1322.5,990.8 L1323.0,990.8 L1323.5,990.8 L1324.0,990.8 L1324.5,990.8 L1325.0,990.8 L1325.5,990.8 L1326.0,990.8 L1326.5,990.8 L1327.0,990.8 L1327.5,990.8 L1328.0,990.8 L1328.5,990.8 L1329.0,990.9 L1329.5,991.4 L1330.0,992.0 L1330.5,992.7 L1331.0,993.7 L1331.5,994.8 L1332.0,996.0 L1332.5,997.4 L1333.0,998.8 L1333.5,1000.4 L1334.0,1002.0 L1334.5,1003.6 L1335.0,1005.3 L1335.5,1007.0 L1336.0,1008.6 L1336.5,1010.3 L1337.0,1011.9 L1337.5,1013.5 L1338.0,1014.9 L1338.5,1016.3 L1339.0,1017.6 L1339.5,1016.7 L1340.0,1015.6 L1340.5,1014.5 L1341.0,1013.3 L1341.5,1012.2 L1342.0,1011.1 L1342.5,1010.0 L1343.0,1008.9 L1343.5,1007.8 L1344.0,1006.8 L1344.5,1005.9 L1345.0,1005.0 L1345.5,1004.2 L1346.0,1003.5 L1346.5,1002.9 L1347.0,1002.3 L1347.5,1001.8 L1348.0,1001.3 L1348.5,1000.8 L1349.0,1000.3 L1349.5,999.9 L1350.0,999.6 L1350.5,999.3 L1351.0,999.3 L1351.5,999.3 L1352.0,999.3 L1352.5,999.3 L1353.0,999.3 L1353.5,999.3 L1354.0,999.3 L1354.5,999.3 L1355.0,999.3 L1355.5,999.3 L1356.0,999.3 L1356.5,999.3 L1357.0,999.3 L1357.5,999.3 L1358.0,999.4 L1358.5,999.8 L1359.0,1000.5 L1359.5,1001.3 L1360.0,1002.4 L1360.5,1003.6 L1361.0,1005.0 L1361.5,1006.6 L1362.0,1008.3 L1362.5,1010.1 L1363.0,1012.0 L1363.5,1014.1 L1364.0,1016.2 L1364.5,1018.3 L1365.0,1020.5 L1365.5,1022.7 L1366.0,1024.9 L1366.5,1027.2 L1367.0,1029.4 L1367.5,1031.5 L1368.0,1033.6 L1368.5,1035.7 L1369.0,1037.6 L1369.5,1039.5 L1370.0,1041.2 L1370.5,1042.8 L1371.0,1044.2 L1371.5,1045.5 L1372.0,1045.7 L1372.5,1045.2 L1373.0,1044.7 L1373.5,1044.2 L1374.0,1043.7 L1374.5,1043.2 L1375.0,1042.7 L1375.5,1042.2 L1376.0,1041.8 L1376.5,1041.5 L1377.0,1041.2 L1377.5,1041.0 L1378.0,1040.9 L1378.5,1040.9 L1379.0,1040.9 L1379.5,1040.9 L1380.0,1040.9 L1380.5,1040.9 L1381.0,1040.9 L1381.5,1040.9 L1382.0,1040.9 L1382.5,1040.9 L1383.0,1040.9 L1383.5,1040.9 L1384.0,1040.9 L1384.5,1040.9 L1385.0,1040.9 L1385.5,1041.0 L1386.0,1041.3 L1386.5,1041.7 L1387.0,1042.2 L1387.5,1042.9 L1388.0,1043.6 L1388.5,1044.4 L1389.0,1045.2 L1389.5,1046.1 L1390.0,1047.0 L1390.5,1047.9 L1391.0,1048.9 L1391.5,1049.8 L1392.0,1050.7 L1392.5,1051.6 L1393.0,1052.4 L1393.5,1052.3 L1394.0,1051.4 L1394.5,1050.5 L1395.0,1049.6 L1395.5,1048.7 L1396.0,1047.8 L1396.5,1046.9 L1397.0,1046.0 L1397.5,1045.1 L1398.0,1044.3 L1398.5,1043.5 L1399.0,1042.8 L1399.5,1042.1 L1400.0,1041.5 L1400.5,1041.0 L1401.0,1040.5 L1401.5,1040.0 L1402.0,1039.5 L1402.5,1039.0 L1403.0,1038.5 L1403.5,1038.1 L1404.0,1037.9 L1404.5,1037.7 L1405.0,1037.6 L1405.5,1037.6 L1406.0,1037.6 L1406.5,1037.6 L1407.0,1037.6 L1407.5,1037.6 L1408.0,1037.6 L1408.5,1037.6 L1409.0,1037.6 L1409.5,1037.6 L1410.0,1037.6 L1410.5,1037.6 L1411.0,1037.6 L1411.5,1037.6 L1412.0,1037.6 L1412.5,1037.8 L1413.0,1038.0 L1413.5,1038.4 L1414.0,1038.8 L1414.5,1039.4 L1415.0,1040.0 L1415.5,1040.6 L1416.0,1041.3 L1416.5,1042.1 L1417.0,1042.9 L1417.5,1043.7 L1418.0,1044.5 L1418.5,1045.4 L1419.0,1046.2 L1419.5,1047.0 L1420.0,1047.9 L1420.5,1048.7 L1421.0,1049.4 L1421.5,1050.1 L1422.0,1050.8 L1422.5,1051.4 L1423.0,1052.0 L1423.5,1052.2 L1424.0,1052.0 L1424.5,1051.8 L1425.0,1051.7 L1425.5,1051.6 L1426.0,1051.5 L1426.5,1051.5 L1427.0,1051.5 L1427.5,1051.5 L1428.0,1051.5 L1428.5,1051.5 L1429.0,1051.5 L1429.5,1051.5 L1430.0,1051.5 L1430.5,1051.5 L1431.0,1051.5 L1431.5,1051.5 L1432.0,1051.5 L1432.5,1051.5 L1433.0,1051.5 L1433.5,1051.5 L1434.0,1051.7 L1434.5,1051.9 L1435.0,1052.3 L1435.5,1052.7 L1436.0,1053.2 L1436.5,1053.7 L1437.0,1054.3 L1437.5,1054.9 L1438.0,1055.6 L1438.5,1056.2 L1439.0,1056.9 L1439.5,1057.5 L1440.0,1056.7 L1440.5,1055.7 L1441.0,1054.7 L1441.5,1053.6 L1442.0,1052.5 L1442.5,1051.4 L1443.0,1050.3 L1443.5,1049.2 L1444.0,1048.1 L1444.5,1047.1 L1445.0,1046.0 L1445.5,1045.0 L1446.0,1044.0 L1446.5,1043.1 L1447.0,1042.2 L1447.5,1041.4 L1448.0,1040.6 L1448.5,1040.0 L1449.0,1039.4 L1449.5,1038.9 L1450.0,1038.4 L1450.5,1037.9 L1451.0,1037.4 L1451.5,1036.9 L1452.0,1036.5 L1452.5,1036.2 L1453.0,1036.0 L1453.5,1036.0 L1454.0,1036.0 L1454.5,1036.0 L1455.0,1036.0 L1455.5,1036.0 L1456.0,1036.0 L1456.5,1036.0 L1457.0,1036.0 L1457.5,1036.0 L1458.0,1036.0 L1458.5,1036.0 L1459.0,1036.0 L1459.5,1036.0 L1460.0,1036.0 L1460.5,1036.1 L1461.0,1036.4 L1461.5,1036.9 L1462.0,1037.6 L1462.5,1038.5 L1463.0,1039.4 L1463.5,1040.5 L1464.0,1041.7 L1464.5,1042.9 L1465.0,1044.2 L1465.5,1045.5 L1466.0,1046.8 L1466.5,1048.0 L1467.0,1049.3 L1467.5,1049.3 L1468.0,1047.7 L1468.5,1046.1 L1469.0,1044.4 L1469.5,1042.6 L1470.0,1040.8 L1470.5,1039.0 L1471.0,1037.2 L1471.5,1035.4 L1472.0,1033.6 L1472.5,1031.9 L1473.0,1030.2 L1473.5,1028.6 L1474.0,1027.1 L1474.5,1025.6 L1475.0,1024.3 L1475.5,1023.1 L1476.0,1022.1 L1476.5,1021.2 L1477.0,1020.5 L1477.5,1020.0 L1478.0,1019.5 L1478.5,1019.0 L1479.0,1018.5 L1479.5,1018.0 L1480.0,1017.5 L1480.5,1017.3 L1481.0,1017.2 L1481.5,1017.2 L1482.0,1017.2 L1482.5,1017.2 L1483.0,1017.2 L1483.5,1017.2 L1484.0,1017.2 L1484.5,1017.2 L1485.0,1017.2 L1485.5,1017.2 L1486.0,1017.2 L1486.5,1017.2 L1487.0,1017.2 L1487.5,1017.3 L1488.0,1017.5 L1488.5,1017.8 L1489.0,1018.4 L1489.5,1019.0 L1490.0,1019.9 L1490.5,1020.8 L1491.0,1021.8 L1491.5,1022.9 L1492.0,1024.1 L1492.5,1025.3 L1493.0,1026.6 L1493.5,1027.9 L1494.0,1029.2 L1494.5,1030.5 L1495.0,1031.8 L1495.5,1033.0 L1496.0,1034.2 L1496.5,1034.2 L1497.0,1032.7 L1497.5,1031.2 L1498.0,1029.7 L1498.5,1028.1 L1499.0,1026.4 L1499.5,1024.7 L1500.0,1023.0 L1500.5,1021.4 L1501.0,1019.7 L1501.5,1018.0 L1502.0,1016.4 L1502.5,1014.9 L1503.0,1013.4 L1503.5,1011.9 L1504.0,1010.6 L1504.5,1009.3 L1505.0,1008.1 L1505.5,1007.1 L1506.0,1006.2 L1506.5,1005.4 L1507.0,1004.8 L1507.5,1004.3 L1508.0,1003.8 L1508.5,1003.3 L1509.0,1002.8 L1509.5,1002.3 L1510.0,1001.9 L1510.5,1001.7 L1511.0,1001.6 L1511.5,1001.6 L1512.0,1001.6 L1512.5,1001.6 L1513.0,1001.6 L1513.5,1001.6 L1514.0,1001.6 L1514.5,1001.6 L1515.0,1001.6 L1515.5,1001.6 L1516.0,1001.6 L1516.5,1001.6 L1517.0,1001.6 L1517.5,1001.7 L1518.0,1002.0 L1518.5,1002.5 L1519.0,1003.2 L1519.5,1004.2 L1520.0,1005.3 L1520.5,1006.6 L1521.0,1008.0 L1521.5,1009.5 L1522.0,1011.1 L1522.5,1012.7 L1523.0,1014.4 L1523.5,1016.1 L1524.0,1017.8 L1524.5,1019.4 L1525.0,1021.0 L1525.5,1020.0 L1526.0,1018.2 L1526.5,1016.2 L1527.0,1014.3 L1527.5,1012.3 L1528.0,1010.2 L1528.5,1008.2 L1529.0,1006.2 L1529.5,1004.3 L1530.0,1002.4 L1530.5,1000.6 L1531.0,998.8 L1531.5,997.2 L1532.0,995.7 L1532.5,994.4 L1533.0,993.2 L1533.5,992.2 L1534.0,991.4 L1534.5,990.9 L1535.0,990.4 L1535.5,989.9 L1536.0,989.4 L1536.5,988.9 L1537.0,988.4 L1537.5,988.2 L1538.0,988.2 L1538.5,988.2 L1539.0,988.2 L1539.5,988.2 L1540.0,988.2 L1540.5,988.2 L1541.0,988.2 L1541.5,988.2 L1542.0,988.2 L1542.5,988.2 L1543.0,988.2 L1543.5,988.2 L1544.0,988.2 L1544.5,988.2 L1545.0,988.5 L1545.5,988.9 L1546.0,989.6 L1546.5,990.4 L1547.0,991.3 L1547.5,992.5 L1548.0,993.7 L1548.5,995.0 L1549.0,996.5 L1549.5,998.0 L1550.0,999.6 L1550.5,1001.2 L1551.0,1002.8 L1551.5,1004.5 L1552.0,1006.2 L1552.5,1007.9 L1553.0,1009.5 L1553.5,1011.1 L1554.0,1012.6 L1554.5,1014.1 L1555.0,1014.5 L1555.5,1012.7 L1556.0,1010.8 L1556.5,1008.9 L1557.0,1006.8 L1557.5,1004.8 L1558.0,1002.7 L1558.5,1000.6 L1559.0,998.5 L1559.5,996.5 L1560.0,994.4 L1560.5,992.5 L1561.0,990.6 L1561.5,988.8 L1562.0,987.1 L1562.5,985.5 L1563.0,984.1 L1563.5,982.9 L1564.0,981.8 L1564.5,980.9 L1565.0,980.2 L1565.5,979.7 L1566.0,979.2 L1566.5,978.7 L1567.0,978.2 L1567.5,977.7 L1568.0,977.3 L1568.5,977.2 L1569.0,977.2 L1569.5,977.2 L1570.0,977.2 L1570.5,977.2 L1571.0,977.2 L1571.5,977.2 L1572.0,977.2 L1572.5,977.2 L1573.0,977.2 L1573.5,977.2 L1574.0,977.2 L1574.5,977.2 L1575.0,977.2 L1575.5,977.4 L1576.0,977.9 L1576.5,978.8 L1577.0,980.0 L1577.5,981.4 L1578.0,983.1 L1578.5,984.9 L1579.0,986.9 L1579.5,989.1 L1580.0,991.4 L1580.5,993.7 L1581.0,996.2 L1581.5,998.6 L1582.0,1001.0 L1582.5,1003.4 L1583.0,1005.8 L1583.5,1008.0 L1584.0,1007.0 L1584.5,1004.2 L1585.0,1001.3 L1585.5,998.3 L1586.0,995.3 L1586.5,992.1 L1587.0,989.0 L1587.5,985.8 L1588.0,982.7 L1588.5,979.7 L1589.0,976.7 L1589.5,973.8 L1590.0,971.1 L1590.5,968.5 L1591.0,966.1 L1591.5,963.9 L1592.0,962.0 L1592.5,960.3 L1593.0,958.9 L1593.5,957.9 L1594.0,957.1 L1594.5,956.6 L1595.0,956.1 L1595.5,955.6 L1596.0,955.1 L1596.5,954.7 L1597.0,954.5 L1597.5,954.5 L1598.0,954.5 L1598.5,954.5 L1599.0,954.5 L1599.5,954.5 L1600.0,954.5 L1600.5,954.5 L1601.0,954.5 L1601.5,954.5 L1602.0,954.5 L1602.5,954.5 L1603.0,954.5 L1603.5,954.5 L1604.0,954.6 L1604.5,955.2 L1605.0,956.0 L1605.5,957.0 L1606.0,958.3 L1606.5,959.9 L1607.0,961.6 L1607.5,963.5 L1608.0,965.5 L1608.5,967.7 L1609.0,969.9 L1609.5,972.3 L1610.0,974.6 L1610.5,977.1 L1611.0,979.5 L1611.5,981.9 L1612.0,984.2 L1612.5,986.5 L1613.0,984.2 L1613.5,979.7 L1614.0,974.9 L1614.5,969.7 L1615.0,964.2 L1615.5,958.5 L1616.0,952.6 L1616.5,946.5 L1617.0,940.3 L1617.5,934.0 L1618.0,927.6 L1618.5,927.1 L1619.0,926.6 L1619.5,926.1 L1620.0,925.6 L1620.5,925.3 L1621.0,925.3 L1621.5,925.3 L1622.0,925.3 L1622.5,925.3 L1623.0,925.3 L1623.5,925.3 L1624.0,925.3 L1624.5,925.3 L1625.0,925.3 L1625.5,925.3 L1626.0,925.3 L1626.5,925.3 L1626.6,925.3 L1626.6,931.7 L1626.5,934.8 L1626.0,941.2 L1625.5,947.5 L1625.0,953.6 L1624.5,959.7 L1624.0,965.5 L1623.5,971.1 L1623.0,976.4 L1622.5,981.4 L1622.0,986.1 L1621.5,990.4 L1621.0,994.2 L1620.5,997.7 L1620.0,1000.6 L1619.5,1003.1 L1619.0,1005.0 L1618.5,1006.3 L1618.0,1006.9 L1617.5,1007.4 L1617.0,1007.9 L1616.5,1008.4 L1616.0,1008.9 L1615.5,1009.3 L1615.0,1009.4 L1614.5,1009.4 L1614.0,1009.4 L1613.5,1009.4 L1613.0,1009.4 L1612.5,1009.4 L1612.0,1009.4 L1611.5,1009.4 L1611.0,1009.4 L1610.5,1009.4 L1610.0,1009.4 L1609.5,1009.4 L1609.0,1009.4 L1608.5,1009.2 L1608.0,1008.7 L1607.5,1007.9 L1607.0,1006.9 L1606.5,1005.6 L1606.0,1004.1 L1605.5,1002.4 L1605.0,1000.5 L1604.5,998.5 L1604.0,996.4 L1603.5,994.1 L1603.0,991.8 L1602.5,989.4 L1602.0,987.0 L1601.5,984.6 L1601.0,982.2 L1600.5,979.8 L1600.0,977.5 L1599.5,975.3 L1599.0,973.8 L1598.5,976.5 L1598.0,979.3 L1597.5,982.2 L1597.0,985.2 L1596.5,988.3 L1596.0,991.5 L1595.5,994.6 L1595.0,997.7 L1594.5,1000.8 L1594.0,1003.9 L1593.5,1006.8 L1593.0,1009.7 L1592.5,1012.4 L1592.0,1014.9 L1591.5,1017.2 L1591.0,1019.3 L1590.5,1021.2 L1590.0,1022.8 L1589.5,1024.1 L1589.0,1025.0 L1588.5,1025.7 L1588.0,1026.2 L1587.5,1026.7 L1587.0,1027.2 L1586.5,1027.7 L1586.0,1028.1 L1585.5,1028.2 L1585.0,1028.2 L1584.5,1028.2 L1584.0,1028.2 L1583.5,1028.2 L1583.0,1028.2 L1582.5,1028.2 L1582.0,1028.2 L1581.5,1028.2 L1581.0,1028.2 L1580.5,1028.2 L1580.0,1028.2 L1579.5,1028.2 L1579.0,1028.2 L1578.5,1027.9 L1578.0,1027.2 L1577.5,1026.3 L1577.0,1025.0 L1576.5,1023.5 L1576.0,1021.8 L1575.5,1019.9 L1575.0,1017.8 L1574.5,1015.6 L1574.0,1013.3 L1573.5,1010.9 L1573.0,1008.5 L1572.5,1006.1 L1572.0,1003.6 L1571.5,1001.2 L1571.0,998.9 L1570.5,996.7 L1570.0,994.6 L1569.5,995.6 L1569.0,997.5 L1568.5,999.5 L1568.0,1001.5 L1567.5,1003.6 L1567.0,1005.7 L1566.5,1007.8 L1566.0,1009.9 L1565.5,1011.9 L1565.0,1013.9 L1564.5,1015.8 L1564.0,1017.7 L1563.5,1019.4 L1563.0,1021.0 L1562.5,1022.5 L1562.0,1023.9 L1561.5,1025.1 L1561.0,1026.1 L1560.5,1026.9 L1560.0,1027.4 L1559.5,1027.9 L1559.0,1028.4 L1558.5,1028.9 L1558.0,1029.4 L1557.5,1029.9 L1557.0,1030.2 L1556.5,1030.2 L1556.0,1030.2 L1555.5,1030.2 L1555.0,1030.2 L1554.5,1030.2 L1554.0,1030.2 L1553.5,1030.2 L1553.0,1030.2 L1552.5,1030.2 L1552.0,1030.2 L1551.5,1030.2 L1551.0,1030.2 L1550.5,1030.2 L1550.0,1030.2 L1549.5,1030.0 L1549.0,1029.5 L1548.5,1028.9 L1548.0,1028.1 L1547.5,1027.2 L1547.0,1026.1 L1546.5,1024.8 L1546.0,1023.5 L1545.5,1022.1 L1545.0,1020.6 L1544.5,1019.0 L1544.0,1017.4 L1543.5,1015.7 L1543.0,1014.1 L1542.5,1012.4 L1542.0,1010.7 L1541.5,1009.1 L1541.0,1007.5 L1540.5,1005.9 L1540.0,1004.4 L1539.5,1003.7 L1539.0,1005.5 L1538.5,1007.4 L1538.0,1009.3 L1537.5,1011.3 L1537.0,1013.3 L1536.5,1015.3 L1536.0,1017.3 L1535.5,1019.3 L1535.0,1021.3 L1534.5,1023.1 L1534.0,1025.0 L1533.5,1026.7 L1533.0,1028.3 L1532.5,1029.8 L1532.0,1031.1 L1531.5,1032.2 L1531.0,1033.2 L1530.5,1034.0 L1530.0,1034.5 L1529.5,1035.0 L1529.0,1035.5 L1528.5,1036.0 L1528.0,1036.5 L1527.5,1037.0 L1527.0,1037.2 L1526.5,1037.2 L1526.0,1037.2 L1525.5,1037.2 L1525.0,1037.2 L1524.5,1037.2 L1524.0,1037.2 L1523.5,1037.2 L1523.0,1037.2 L1522.5,1037.2 L1522.0,1037.2 L1521.5,1037.2 L1521.0,1037.2 L1520.5,1037.2 L1520.0,1037.2 L1519.5,1036.8 L1519.0,1036.2 L1518.5,1035.4 L1518.0,1034.4 L1517.5,1033.2 L1517.0,1031.9 L1516.5,1030.5 L1516.0,1028.9 L1515.5,1027.3 L1515.0,1025.7 L1514.5,1024.0 L1514.0,1022.3 L1513.5,1020.6 L1513.0,1019.0 L1512.5,1017.4 L1512.0,1016.7 L1511.5,1018.2 L1511.0,1019.7 L1510.5,1021.3 L1510.0,1022.9 L1509.5,1024.6 L1509.0,1026.3 L1508.5,1027.9 L1508.0,1029.6 L1507.5,1031.3 L1507.0,1032.9 L1506.5,1034.5 L1506.0,1036.0 L1505.5,1037.5 L1505.0,1038.9 L1504.5,1040.2 L1504.0,1041.4 L1503.5,1042.5 L1503.0,1043.5 L1502.5,1044.4 L1502.0,1045.1 L1501.5,1045.6 L1501.0,1046.1 L1500.5,1046.6 L1500.0,1047.1 L1499.5,1047.6 L1499.0,1048.1 L1498.5,1048.4 L1498.0,1048.5 L1497.5,1048.5 L1497.0,1048.5 L1496.5,1048.5 L1496.0,1048.5 L1495.5,1048.5 L1495.0,1048.5 L1494.5,1048.5 L1494.0,1048.5 L1493.5,1048.5 L1493.0,1048.5 L1492.5,1048.5 L1492.0,1048.5 L1491.5,1048.5 L1491.0,1048.5 L1490.5,1048.2 L1490.0,1047.7 L1489.5,1047.1 L1489.0,1046.4 L1488.5,1045.5 L1488.0,1044.5 L1487.5,1043.4 L1487.0,1042.3 L1486.5,1041.1 L1486.0,1039.8 L1485.5,1038.6 L1485.0,1037.2 L1484.5,1035.9 L1484.0,1034.7 L1483.5,1033.4 L1483.0,1032.2 L1482.5,1031.9 L1482.0,1033.4 L1481.5,1035.1 L1481.0,1036.8 L1480.5,1038.5 L1480.0,1040.3 L1479.5,1042.1 L1479.0,1043.9 L1478.5,1045.7 L1478.0,1047.5 L1477.5,1049.3 L1477.0,1051.0 L1476.5,1052.6 L1476.0,1054.1 L1475.5,1055.6 L1475.0,1056.9 L1474.5,1058.2 L1474.0,1059.2 L1473.5,1060.2 L1473.0,1060.9 L1472.5,1061.5 L1472.0,1062.0 L1471.5,1062.5 L1471.0,1063.0 L1470.5,1063.5 L1470.0,1064.0 L1469.5,1064.3 L1469.0,1064.4 L1468.5,1064.4 L1468.0,1064.4 L1467.5,1064.4 L1467.0,1064.4 L1466.5,1064.4 L1466.0,1064.4 L1465.5,1064.4 L1465.0,1064.4 L1464.5,1064.4 L1464.0,1064.4 L1463.5,1064.4 L1463.0,1064.4 L1462.5,1064.4 L1462.0,1064.3 L1461.5,1063.9 L1461.0,1063.4 L1460.5,1062.7 L1460.0,1061.8 L1459.5,1060.9 L1459.0,1059.8 L1458.5,1058.6 L1458.0,1057.4 L1457.5,1056.1 L1457.0,1054.8 L1456.5,1053.5 L1456.0,1052.2 L1455.5,1051.0 L1455.0,1049.8 L1454.5,1048.7 L1454.0,1049.5 L1453.5,1050.6 L1453.0,1051.6 L1452.5,1052.7 L1452.0,1053.8 L1451.5,1054.9 L1451.0,1056.0 L1450.5,1057.1 L1450.0,1058.2 L1449.5,1059.3 L1449.0,1060.3 L1448.5,1061.2 L1448.0,1062.2 L1447.5,1063.0 L1447.0,1063.8 L1446.5,1064.5 L1446.0,1065.1 L1445.5,1065.7 L1445.0,1066.2 L1444.5,1066.7 L1444.0,1067.2 L1443.5,1067.7 L1443.0,1068.1 L1442.5,1068.5 L1442.0,1068.8 L1441.5,1069.0 L1441.0,1069.0 L1440.5,1069.0 L1440.0,1069.0 L1439.5,1069.0 L1439.0,1069.0 L1438.5,1069.0 L1438.0,1069.0 L1437.5,1069.0 L1437.0,1069.0 L1436.5,1069.0 L1436.0,1069.0 L1435.5,1069.0 L1435.0,1069.0 L1434.5,1069.0 L1434.0,1068.9 L1433.5,1068.7 L1433.0,1068.4 L1432.5,1068.0 L1432.0,1067.6 L1431.5,1067.0 L1431.0,1066.5 L1430.5,1065.9 L1430.0,1065.2 L1429.5,1064.6 L1429.0,1064.0 L1428.5,1063.3 L1428.0,1062.7 L1427.5,1062.2 L1427.0,1061.6 L1426.5,1061.3 L1426.0,1061.4 L1425.5,1061.6 L1425.0,1061.8 L1424.5,1061.9 L1424.0,1062.0 L1423.5,1062.0 L1423.0,1062.0 L1422.5,1062.0 L1422.0,1062.0 L1421.5,1062.0 L1421.0,1062.0 L1420.5,1062.0 L1420.0,1062.0 L1419.5,1062.0 L1419.0,1062.0 L1418.5,1062.0 L1418.0,1062.0 L1417.5,1062.0 L1417.0,1062.0 L1416.5,1062.0 L1416.0,1061.9 L1415.5,1061.7 L1415.0,1061.3 L1414.5,1060.9 L1414.0,1060.4 L1413.5,1059.8 L1413.0,1059.2 L1412.5,1058.5 L1412.0,1057.8 L1411.5,1057.0 L1411.0,1056.2 L1410.5,1055.3 L1410.0,1054.5 L1409.5,1053.6 L1409.0,1052.8 L1408.5,1052.0 L1408.0,1051.2 L1407.5,1050.4 L1407.0,1049.7 L1406.5,1049.0 L1406.0,1049.6 L1405.5,1050.5 L1405.0,1051.4 L1404.5,1052.3 L1404.0,1053.2 L1403.5,1054.1 L1403.0,1055.0 L1402.5,1055.9 L1402.0,1056.7 L1401.5,1057.6 L1401.0,1058.4 L1400.5,1059.1 L1400.0,1059.8 L1399.5,1060.4 L1399.0,1060.9 L1398.5,1061.4 L1398.0,1061.9 L1397.5,1062.4 L1397.0,1062.9 L1396.5,1063.4 L1396.0,1063.8 L1395.5,1064.1 L1395.0,1064.3 L1394.5,1064.4 L1394.0,1064.4 L1393.5,1064.4 L1393.0,1064.4 L1392.5,1064.4 L1392.0,1064.4 L1391.5,1064.4 L1391.0,1064.4 L1390.5,1064.4 L1390.0,1064.4 L1389.5,1064.4 L1389.0,1064.4 L1388.5,1064.4 L1388.0,1064.4 L1387.5,1064.4 L1387.0,1064.2 L1386.5,1063.9 L1386.0,1063.4 L1385.5,1062.9 L1385.0,1062.2 L1384.5,1061.5 L1384.0,1060.7 L1383.5,1059.8 L1383.0,1059.0 L1382.5,1058.0 L1382.0,1057.1 L1381.5,1056.2 L1381.0,1055.2 L1380.5,1054.3 L1380.0,1053.5 L1379.5,1052.7 L1379.0,1051.9 L1378.5,1052.3 L1378.0,1052.8 L1377.5,1053.3 L1377.0,1053.8 L1376.5,1054.3 L1376.0,1054.8 L1375.5,1055.3 L1375.0,1055.8 L1374.5,1056.2 L1374.0,1056.6 L1373.5,1057.0 L1373.0,1057.3 L1372.5,1057.4 L1372.0,1057.5 L1371.5,1057.5 L1371.0,1057.5 L1370.5,1057.5 L1370.0,1057.5 L1369.5,1057.5 L1369.0,1057.5 L1368.5,1057.5 L1368.0,1057.5 L1367.5,1057.5 L1367.0,1057.5 L1366.5,1057.5 L1366.0,1057.5 L1365.5,1057.5 L1365.0,1057.5 L1364.5,1057.1 L1364.0,1056.6 L1363.5,1055.8 L1363.0,1054.8 L1362.5,1053.6 L1362.0,1052.2 L1361.5,1050.7 L1361.0,1049.0 L1360.5,1047.2 L1360.0,1045.3 L1359.5,1043.4 L1359.0,1041.3 L1358.5,1039.1 L1358.0,1037.0 L1357.5,1034.8 L1357.0,1032.5 L1356.5,1030.3 L1356.0,1028.1 L1355.5,1025.9 L1355.0,1023.8 L1354.5,1021.7 L1354.0,1019.8 L1353.5,1017.9 L1353.0,1016.1 L1352.5,1014.5 L1352.0,1013.0 L1351.5,1013.5 L1351.0,1014.6 L1350.5,1015.7 L1350.0,1016.8 L1349.5,1018.0 L1349.0,1019.1 L1348.5,1020.2 L1348.0,1021.3 L1347.5,1022.3 L1347.0,1023.3 L1346.5,1024.3 L1346.0,1025.1 L1345.5,1025.9 L1345.0,1026.6 L1344.5,1027.2 L1344.0,1027.8 L1343.5,1028.3 L1343.0,1028.8 L1342.5,1029.3 L1342.0,1029.8 L1341.5,1030.2 L1341.0,1030.5 L1340.5,1030.8 L1340.0,1030.8 L1339.5,1030.8 L1339.0,1030.8 L1338.5,1030.8 L1338.0,1030.8 L1337.5,1030.8 L1337.0,1030.8 L1336.5,1030.8 L1336.0,1030.8 L1335.5,1030.8 L1335.0,1030.8 L1334.5,1030.8 L1334.0,1030.8 L1333.5,1030.8 L1333.0,1030.7 L1332.5,1030.3 L1332.0,1029.7 L1331.5,1028.9 L1331.0,1028.0 L1330.5,1026.9 L1330.0,1025.7 L1329.5,1024.3 L1329.0,1022.9 L1328.5,1021.4 L1328.0,1019.8 L1327.5,1018.2 L1327.0,1016.5 L1326.5,1014.8 L1326.0,1013.1 L1325.5,1011.5 L1325.0,1009.9 L1324.5,1008.3 L1324.0,1006.8 L1323.5,1005.4 L1323.0,1005.1 L1322.5,1006.4 L1322.0,1007.6 L1321.5,1008.9 L1321.0,1010.2 L1320.5,1011.5 L1320.0,1012.8 L1319.5,1014.0 L1319.0,1015.2 L1318.5,1016.3 L1318.0,1017.4 L1317.5,1018.3 L1317.0,1019.2 L1316.5,1019.9 L1316.0,1020.5 L1315.5,1021.0 L1315.0,1021.5 L1314.5,1022.0 L1314.0,1022.5 L1313.5,1023.0 L1313.0,1023.3 L1312.5,1023.6 L1312.0,1023.6 L1311.5,1023.6 L1311.0,1023.6 L1310.5,1023.6 L1310.0,1023.6 L1309.5,1023.6 L1309.0,1023.6 L1308.5,1023.6 L1308.0,1023.6 L1307.5,1023.6 L1307.0,1023.6 L1306.5,1023.6 L1306.0,1023.6 L1305.5,1023.6 L1305.0,1023.5 L1304.5,1023.1 L1304.0,1022.6 L1303.5,1021.9 L1303.0,1021.1 L1302.5,1020.2 L1302.0,1019.1 L1301.5,1018.0 L1301.0,1016.7 L1300.5,1015.4 L1300.0,1014.1 L1299.5,1012.7 L1299.0,1011.2 L1298.5,1009.8 L1298.0,1008.3 L1297.5,1006.9 L1297.0,1005.5 L1296.5,1004.1 L1296.0,1002.7 L1295.5,1001.4 L1295.0,1000.3 L1294.5,1001.1 L1294.0,1002.5 L1293.5,1003.9 L1293.0,1005.4 L1292.5,1006.9 L1292.0,1008.3 L1291.5,1009.8 L1291.0,1011.2 L1290.5,1012.6 L1290.0,1013.9 L1289.5,1015.2 L1289.0,1016.4 L1288.5,1017.5 L1288.0,1018.5 L1287.5,1019.3 L1287.0,1020.0 L1286.5,1020.6 L1286.0,1021.1 L1285.5,1021.6 L1285.0,1022.1 L1284.5,1022.6 L1284.0,1023.1 L1283.5,1023.4 L1283.0,1023.6 L1282.5,1023.6 L1282.0,1023.6 L1281.5,1023.6 L1281.0,1023.6 L1280.5,1023.6 L1280.0,1023.6 L1279.5,1023.6 L1279.0,1023.6 L1278.5,1023.6 L1278.0,1023.6 L1277.5,1023.6 L1277.0,1023.6 L1276.5,1023.6 L1276.0,1023.6 L1275.5,1023.3 L1275.0,1022.9 L1274.5,1022.2 L1274.0,1021.4 L1273.5,1020.5 L1273.0,1019.5 L1272.5,1018.4 L1272.0,1017.1 L1271.5,1015.8 L1271.0,1014.5 L1270.5,1013.1 L1270.0,1011.7 L1269.5,1010.3 L1269.0,1008.9 L1268.5,1007.5 L1268.0,1006.2 L1267.5,1005.0 L1267.0,1005.1 L1266.5,1006.4 L1266.0,1007.8 L1265.5,1009.3 L1265.0,1010.7 L1264.5,1012.2 L1264.0,1013.7 L1263.5,1015.2 L1263.0,1016.6 L1262.5,1018.0 L1262.0,1019.4 L1261.5,1020.8 L1261.0,1022.0 L1260.5,1023.2 L1260.0,1024.3 L1259.5,1025.3 L1259.0,1026.2 L1258.5,1026.9 L1258.0,1027.6 L1257.5,1028.1 L1257.0,1028.6 L1256.5,1029.1 L1256.0,1029.6 L1255.5,1030.1 L1255.0,1030.5 L1254.5,1030.7 L1254.0,1030.8 L1253.5,1030.8 L1253.0,1030.8 L1252.5,1030.8 L1252.0,1030.8 L1251.5,1030.8 L1251.0,1030.8 L1250.5,1030.8 L1250.0,1030.8 L1249.5,1030.8 L1249.0,1030.8 L1248.5,1030.8 L1248.0,1030.8 L1247.5,1030.8 L1247.0,1030.7 L1246.5,1030.3 L1246.0,1029.6 L1245.5,1028.8 L1245.0,1027.8 L1244.5,1026.6 L1244.0,1025.3 L1243.5,1023.9 L1243.0,1022.4 L1242.5,1020.8 L1242.0,1019.2 L1241.5,1017.5 L1241.0,1015.8 L1240.5,1014.2 L1240.0,1012.5 L1239.5,1010.9 L1239.0,1009.4 L1238.5,1009.0 L1238.0,1010.7 L1237.5,1012.5 L1237.0,1014.2 L1236.5,1016.1 L1236.0,1017.9 L1235.5,1019.7 L1235.0,1021.5 L1234.5,1023.3 L1234.0,1025.0 L1233.5,1026.6 L1233.0,1028.2 L1232.5,1029.6 L1232.0,1030.9 L1231.5,1032.1 L1231.0,1033.1 L1230.5,1033.9 L1230.0,1034.6 L1229.5,1035.1 L1229.0,1035.6 L1228.5,1036.1 L1228.0,1036.6 L1227.5,1037.1 L1227.0,1037.4 L1226.5,1037.5 L1226.0,1037.5 L1225.5,1037.5 L1225.0,1037.5 L1224.5,1037.5 L1224.0,1037.5 L1223.5,1037.5 L1223.0,1037.5 L1222.5,1037.5 L1222.0,1037.5 L1221.5,1037.5 L1221.0,1037.5 L1220.5,1037.5 L1220.0,1037.5 L1219.5,1037.3 L1219.0,1036.9 L1218.5,1036.1 L1218.0,1035.2 L1217.5,1034.0 L1217.0,1032.7 L1216.5,1031.2 L1216.0,1029.6 L1215.5,1027.9 L1215.0,1026.1 L1214.5,1024.3 L1214.0,1022.4 L1213.5,1020.5 L1213.0,1018.6 L1212.5,1016.8 L1212.0,1015.0 L1211.5,1013.3 L1211.0,1015.1 L1210.5,1017.0 L1210.0,1019.0 L1209.5,1021.0 L1209.0,1023.0 L1208.5,1025.0 L1208.0,1027.0 L1207.5,1028.9 L1207.0,1030.8 L1206.5,1032.6 L1206.0,1034.3 L1205.5,1035.9 L1205.0,1037.3 L1204.5,1038.6 L1204.0,1039.7 L1203.5,1040.5 L1203.0,1041.2 L1202.5,1041.7 L1202.0,1042.2 L1201.5,1042.7 L1201.0,1043.2 L1200.5,1043.7 L1200.0,1044.1 L1199.5,1044.1 L1199.0,1044.1 L1198.5,1044.1 L1198.0,1044.1 L1197.5,1044.1 L1197.0,1044.1 L1196.5,1044.1 L1196.0,1044.1 L1195.5,1044.1 L1195.0,1044.1 L1194.5,1044.1 L1194.0,1044.1 L1193.5,1044.1 L1193.0,1044.1 L1192.5,1043.8 L1192.0,1043.1 L1191.5,1042.1 L1191.0,1040.8 L1190.5,1039.3 L1190.0,1037.5 L1189.5,1035.6 L1189.0,1033.5 L1188.5,1031.3 L1188.0,1029.0 L1187.5,1026.7 L1187.0,1024.3 L1186.5,1022.0 L1186.0,1019.7 L1185.5,1017.4 L1185.0,1015.4 L1184.5,1017.4 L1184.0,1019.5 L1183.5,1021.6 L1183.0,1023.8 L1182.5,1026.0 L1182.0,1028.1 L1181.5,1030.3 L1181.0,1032.4 L1180.5,1034.4 L1180.0,1036.3 L1179.5,1038.2 L1179.0,1039.9 L1178.5,1041.4 L1178.0,1042.7 L1177.5,1043.9 L1177.0,1044.9 L1176.5,1045.6 L1176.0,1046.1 L1175.5,1046.6 L1175.0,1047.1 L1174.5,1047.6 L1174.0,1048.1 L1173.5,1048.4 L1173.0,1048.5 L1172.5,1048.5 L1172.0,1048.5 L1171.5,1048.5 L1171.0,1048.5 L1170.5,1048.5 L1170.0,1048.5 L1169.5,1048.5 L1169.0,1048.5 L1168.5,1048.5 L1168.0,1048.5 L1167.5,1048.5 L1167.0,1048.5 L1166.5,1048.5 L1166.0,1048.2 L1165.5,1047.5 L1165.0,1046.6 L1164.5,1045.4 L1164.0,1043.9 L1163.5,1042.2 L1163.0,1040.4 L1162.5,1038.4 L1162.0,1036.2 L1161.5,1034.0 L1161.0,1031.8 L1160.5,1029.5 L1160.0,1027.1 L1159.5,1024.9 L1159.0,1022.7 L1158.5,1020.5 L1158.0,1021.2 L1157.5,1023.5 L1157.0,1025.8 L1156.5,1028.2 L1156.0,1030.6 L1155.5,1033.0 L1155.0,1035.4 L1154.5,1037.7 L1154.0,1040.0 L1153.5,1042.1 L1153.0,1044.2 L1152.5,1046.0 L1152.0,1047.8 L1151.5,1049.3 L1151.0,1050.6 L1150.5,1051.7 L1150.0,1052.5 L1149.5,1053.0 L1149.0,1053.5 L1148.5,1054.0 L1148.0,1054.5 L1147.5,1055.0 L1147.0,1055.4 L1146.5,1055.5 L1146.0,1055.5 L1145.5,1055.5 L1145.0,1055.5 L1144.5,1055.5 L1144.0,1055.5 L1143.5,1055.5 L1143.0,1055.5 L1142.5,1055.5 L1142.0,1055.5 L1141.5,1055.5 L1141.0,1055.5 L1140.5,1055.5 L1140.0,1055.5 L1139.5,1055.0 L1139.0,1053.9 L1138.5,1052.3 L1138.0,1050.3 L1137.5,1048.0 L1137.0,1045.3 L1136.5,1042.3 L1136.0,1039.1 L1135.5,1035.7 L1135.0,1032.2 L1134.5,1028.6 L1134.0,1025.0 L1133.5,1021.4 L1133.0,1018.0 L1132.5,1014.6 L1132.0,1014.1 L1131.5,1016.9 L1131.0,1019.6 L1130.5,1022.5 L1130.0,1025.3 L1129.5,1028.1 L1129.0,1030.8 L1128.5,1033.5 L1128.0,1036.0 L1127.5,1038.4 L1127.0,1040.6 L1126.5,1042.6 L1126.0,1044.3 L1125.5,1045.8 L1125.0,1047.0 L1124.5,1047.8 L1124.0,1048.4 L1123.5,1048.9 L1123.0,1049.4 L1122.5,1049.9 L1122.0,1050.4 L1121.5,1050.7 L1121.0,1050.7 L1120.5,1050.7 L1120.0,1050.7 L1119.5,1050.7 L1119.0,1050.7 L1118.5,1050.7 L1118.0,1050.7 L1117.5,1050.7 L1117.0,1050.7 L1116.5,1050.7 L1116.0,1050.7 L1115.5,1050.7 L1115.0,1050.7 L1114.5,1050.6 L1114.0,1049.8 L1113.5,1048.6 L1113.0,1046.9 L1112.5,1044.8 L1112.0,1042.3 L1111.5,1039.5 L1111.0,1036.4 L1110.5,1033.1 L1110.0,1029.7 L1109.5,1026.1 L1109.0,1022.4 L1108.5,1018.8 L1108.0,1015.1 L1107.5,1011.5 L1107.0,1008.1 L1106.5,1009.9 L1106.0,1013.7 L1105.5,1017.5 L1105.0,1021.4 L1104.5,1025.2 L1104.0,1029.0 L1103.5,1032.6 L1103.0,1036.0 L1102.5,1039.2 L1102.0,1042.1 L1101.5,1044.7 L1101.0,1046.9 L1100.5,1048.7 L1100.0,1049.9 L1099.5,1050.6 L1099.0,1051.1 L1098.5,1051.6 L1098.0,1052.1 L1097.5,1052.6 L1097.0,1053.1 L1096.5,1053.1 L1096.0,1053.1 L1095.5,1053.1 L1095.0,1053.1 L1094.5,1053.1 L1094.0,1053.1 L1093.5,1053.1 L1093.0,1053.1 L1092.5,1053.1 L1092.0,1053.1 L1091.5,1053.1 L1091.0,1053.1 L1090.5,1053.1 L1090.0,1052.9 L1089.5,1051.7 L1089.0,1049.6 L1088.5,1046.8 L1088.0,1043.2 L1087.5,1038.9 L1087.0,1034.0 L1086.5,1028.6 L1086.0,1022.6 L1085.5,1016.1 L1085.0,1009.2 L1084.5,1001.9 L1084.0,994.4 L1083.5,986.6 L1083.0,978.6 L1082.5,970.4 L1082.0,962.2 L1081.5,953.9 L1081.0,945.7 L1080.5,937.5 L1080.0,929.5 L1079.5,921.6 L1079.0,914.0 L1078.5,906.7 L1078.0,899.8 L1077.5,893.2 L1077.0,887.1 L1076.5,890.5 L1076.0,895.5 L1075.5,900.6 L1075.0,905.8 L1074.5,911.0 L1074.0,916.1 L1073.5,921.1 L1073.0,925.9 L1072.5,930.5 L1072.0,934.7 L1071.5,938.7 L1071.0,942.2 L1070.5,945.2 L1070.0,947.7 L1069.5,949.7 L1069.0,951.0 L1068.5,951.6 L1068.0,952.1 L1067.5,952.6 L1067.0,953.1 L1066.5,953.6 L1066.0,953.9 L1065.5,953.9 L1065.0,953.9 L1064.5,953.9 L1064.0,953.9 L1063.5,953.9 L1063.0,953.9 L1062.5,953.9 L1062.0,953.9 L1061.5,953.9 L1061.0,953.9 L1060.5,953.9 L1060.0,953.9 L1059.5,953.9 L1059.0,953.2 L1058.5,951.4 L1058.0,948.7 L1057.5,945.2 L1057.0,940.8 L1056.5,935.8 L1056.0,930.0 L1055.5,923.8 L1055.0,917.0 L1054.5,909.8 L1054.0,902.2 L1053.5,894.4 L1053.0,886.4 L1052.5,878.2 L1052.0,870.0 L1051.5,861.7 L1051.0,853.6 L1050.5,845.6 L1050.0,837.9 L1049.5,830.5 L1049.0,823.5 L1048.5,816.9 L1048.0,814.1 L1047.5,818.7 L1047.0,823.5 L1046.5,828.8 L1046.0,837.9 L1045.5,851.2 L1045.0,867.3 L1044.5,885.1 L1044.0,903.3 L1043.5,920.5 L1043.0,935.7 L1042.5,947.5 L1042.0,954.6 L1041.5,956.3 L1041.0,956.8 L1040.5,957.3 L1040.0,957.8 L1039.5,958.3 L1039.0,958.5 L1038.5,958.5 L1038.0,958.5 L1037.5,958.5 L1037.0,958.5 L1036.5,958.5 L1036.0,958.5 L1035.5,958.5 L1035.0,958.5 L1034.5,958.5 L1034.0,958.5 L1033.5,958.5 L1033.0,958.5 L1032.5,956.8 L1032.0,950.3 L1031.5,939.5 L1031.0,925.3 L1030.5,908.5 L1030.0,889.7 L1029.5,869.7 L1029.0,849.4 L1028.5,829.4 L1028.0,805.3 L1027.5,775.6 L1027.0,745.4 L1026.5,719.8 L1026.0,702.5 L1025.5,689.9 L1025.0,679.3 L1024.5,668.2 L1024.0,654.0 L1023.5,634.0 L1023.0,607.4 L1022.5,577.3 L1022.0,546.8 L1021.5,518.5 L1021.0,490.5 L1020.5,462.5 L1020.0,435.2 L1019.5,409.0 L1019.0,383.7 L1018.5,359.2 L1018.0,335.6 L1017.5,313.4 L1017.0,291.9 L1016.5,271.1 L1016.0,251.7 L1015.5,234.4 L1015.0,219.5 L1014.5,206.4 L1014.0,194.5 L1013.5,183.0 L1013.0,171.2 L1012.5,166.5 L1012.0,178.0 L1011.5,190.0 L1011.0,202.9 L1010.5,216.8 L1010.0,232.1 L1009.5,249.4 L1009.0,268.4 L1008.5,288.5 L1008.0,309.0 L1007.5,330.8 L1007.0,354.6 L1006.5,378.2 L1006.0,399.1 L1005.5,415.2 L1005.0,427.4 L1004.5,438.1 L1004.0,449.4 L1003.5,463.8 L1003.0,484.3 L1002.5,510.9 L1002.0,540.8 L1001.5,570.9 L1001.0,598.6 L1000.5,625.7 L1000.0,652.9 L999.5,680.4 L999.0,708.5 L998.5,738.2 L998.0,768.9 L997.5,798.6 L997.0,825.5 L996.5,850.5 L996.0,874.1 L995.5,895.4 L995.0,913.7 L994.5,931.3 L994.0,949.0 L993.5,965.0 L993.0,977.4 L992.5,984.5 L992.0,985.7 L991.5,986.2 L991.0,986.7 L990.5,987.2 L990.0,987.7 L989.5,987.9 L989.0,987.9 L988.5,987.9 L988.0,987.9 L987.5,987.9 L987.0,987.9 L986.5,987.9 L986.0,987.9 L985.5,987.9 L985.0,987.9 L984.5,987.9 L984.0,987.9 L983.5,987.9 L983.0,985.3 L982.5,978.3 L982.0,967.8 L981.5,954.6 L981.0,939.6 L980.5,923.8 L980.0,908.0 L979.5,893.2 L979.0,880.2 L978.5,869.9 L978.0,863.4 L977.5,858.9 L977.0,854.7 L976.5,854.0 L976.0,861.2 L975.5,868.8 L975.0,876.9 L974.5,885.4 L974.0,894.1 L973.5,903.1 L973.0,912.2 L972.5,921.3 L972.0,930.4 L971.5,939.4 L971.0,948.1 L970.5,956.6 L970.0,964.7 L969.5,972.3 L969.0,979.5 L968.5,986.0 L968.0,991.8 L967.5,996.9 L967.0,1001.1 L966.5,1004.4 L966.0,1006.7 L965.5,1007.8 L965.0,1008.3 L964.5,1008.8 L964.0,1009.3 L963.5,1009.8 L963.0,1010.3 L962.5,1010.4 L962.0,1010.4 L961.5,1010.4 L961.0,1010.4 L960.5,1010.4 L960.0,1010.4 L959.5,1010.4 L959.0,1010.4 L958.5,1010.4 L958.0,1010.4 L957.5,1010.4 L957.0,1010.4 L956.5,1010.4 L956.0,1009.9 L955.5,1008.7 L955.0,1006.8 L954.5,1004.2 L954.0,1001.0 L953.5,997.3 L953.0,993.2 L952.5,988.7 L952.0,983.9 L951.5,978.9 L951.0,973.8 L950.5,968.6 L950.0,963.3 L949.5,958.2 L949.0,953.2 L948.5,957.4 L948.0,963.3 L947.5,969.5 L947.0,975.7 L946.5,982.0 L946.0,988.2 L945.5,994.4 L945.0,1000.3 L944.5,1006.0 L944.0,1011.3 L943.5,1016.3 L943.0,1020.7 L942.5,1024.6 L942.0,1027.9 L941.5,1030.5 L941.0,1032.3 L940.5,1033.2 L940.0,1033.7 L939.5,1034.2 L939.0,1034.7 L938.5,1035.2 L938.0,1035.6 L937.5,1035.6 L937.0,1035.6 L936.5,1035.6 L936.0,1035.6 L935.5,1035.6 L935.0,1035.6 L934.5,1035.6 L934.0,1035.6 L933.5,1035.6 L933.0,1035.6 L932.5,1035.6 L932.0,1035.6 L931.5,1035.6 L931.0,1035.4 L930.5,1034.6 L930.0,1033.3 L929.5,1031.5 L929.0,1029.4 L928.5,1026.9 L928.0,1024.1 L927.5,1021.0 L927.0,1017.6 L926.5,1014.1 L926.0,1010.4 L925.5,1006.5 L925.0,1002.6 L924.5,998.7 L924.0,994.8 L923.5,990.9 L923.0,987.1 L922.5,983.4 L922.0,979.9 L921.5,979.3 L921.0,982.8 L920.5,986.3 L920.0,989.9 L919.5,993.6 L919.0,997.3 L918.5,1000.9 L918.0,1004.5 L917.5,1008.0 L917.0,1011.3 L916.5,1014.5 L916.0,1017.4 L915.5,1020.1 L915.0,1022.4 L914.5,1024.5 L914.0,1026.1 L913.5,1027.4 L913.0,1028.2 L912.5,1028.7 L912.0,1029.2 L911.5,1029.7 L911.0,1030.2 L910.5,1030.7 L910.0,1030.8 L909.5,1030.8 L909.0,1030.8 L908.5,1030.8 L908.0,1030.8 L907.5,1030.8 L907.0,1030.8 L906.5,1030.8 L906.0,1030.8 L905.5,1030.8 L905.0,1030.8 L904.5,1030.8 L904.0,1030.8 L903.5,1030.8 L903.0,1030.4 L902.5,1029.5 L902.0,1028.3 L901.5,1026.7 L901.0,1024.8 L900.5,1022.6 L900.0,1020.2 L899.5,1017.5 L899.0,1014.7 L898.5,1011.7 L898.0,1008.7 L897.5,1005.6 L897.0,1002.4 L896.5,999.3 L896.0,996.3 L895.5,993.3 L895.0,990.4 L894.5,992.0 L894.0,995.1 L893.5,998.3 L893.0,1001.5 L892.5,1004.9 L892.0,1008.2 L891.5,1011.4 L891.0,1014.6 L890.5,1017.7 L890.0,1020.7 L889.5,1023.5 L889.0,1026.0 L888.5,1028.4 L888.0,1030.5 L887.5,1032.2 L887.0,1033.6 L886.5,1034.7 L886.0,1035.3 L885.5,1035.8 L885.0,1036.3 L884.5,1036.8 L884.0,1037.3 L883.5,1037.8 L883.0,1037.8 L882.5,1037.8 L882.0,1037.8 L881.5,1037.8 L881.0,1037.8 L880.5,1037.8 L880.0,1037.8 L879.5,1037.8 L879.0,1037.8 L878.5,1037.8 L878.0,1037.8 L877.5,1037.8 L877.0,1037.8 L876.5,1037.8 L876.0,1037.4 L875.5,1036.6 L875.0,1035.5 L874.5,1034.2 L874.0,1032.5 L873.5,1030.7 L873.0,1028.7 L872.5,1026.5 L872.0,1024.2 L871.5,1021.9 L871.0,1019.4 L870.5,1017.0 L870.0,1014.5 L869.5,1012.1 L869.0,1009.7 L868.5,1009.3 L868.0,1012.1 L867.5,1015.0 L867.0,1017.9 L866.5,1020.9 L866.0,1024.0 L865.5,1027.0 L865.0,1029.9 L864.5,1032.8 L864.0,1035.6 L863.5,1038.3 L863.0,1040.8 L862.5,1043.0 L862.0,1045.1 L861.5,1046.9 L861.0,1048.4 L860.5,1049.5 L860.0,1050.3 L859.5,1050.8 L859.0,1051.3 L858.5,1051.8 L858.0,1052.3 L857.5,1052.8 L857.0,1053.1 L856.5,1053.1 L856.0,1053.1 L855.5,1053.1 L855.0,1053.1 L854.5,1053.1 L854.0,1053.1 L853.5,1053.1 L853.0,1053.1 L852.5,1053.1 L852.0,1053.1 L851.5,1053.1 L851.0,1053.1 L850.5,1053.1 L850.0,1053.0 L849.5,1052.5 L849.0,1051.7 L848.5,1050.7 L848.0,1049.4 L847.5,1048.0 L847.0,1046.3 L846.5,1044.5 L846.0,1042.6 L845.5,1040.5 L845.0,1038.5 L844.5,1036.3 L844.0,1034.2 L843.5,1032.0 L843.0,1030.0 L842.5,1027.9 L842.0,1027.9 L841.5,1030.2 L841.0,1032.7 L840.5,1035.3 L840.0,1037.9 L839.5,1040.6 L839.0,1043.2 L838.5,1045.9 L838.0,1048.5 L837.5,1051.0 L837.0,1053.4 L836.5,1055.7 L836.0,1057.8 L835.5,1059.8 L835.0,1061.6 L834.5,1063.1 L834.0,1064.4 L833.5,1065.5 L833.0,1066.2 L832.5,1066.7 L832.0,1067.2 L831.5,1067.7 L831.0,1068.2 L830.5,1068.7 L830.0,1069.0 L829.5,1069.0 L829.0,1069.0 L828.5,1069.0 L828.0,1069.0 L827.5,1069.0 L827.0,1069.0 L826.5,1069.0 L826.0,1069.0 L825.5,1069.0 L825.0,1069.0 L824.5,1069.0 L824.0,1069.0 L823.5,1069.0 L823.0,1069.0 L822.5,1068.7 L822.0,1068.1 L821.5,1067.4 L821.0,1066.5 L820.5,1065.5 L820.0,1064.3 L819.5,1062.9 L819.0,1061.5 L818.5,1060.0 L818.0,1058.4 L817.5,1056.7 L817.0,1055.0 L816.5,1053.3 L816.0,1051.6 L815.5,1049.9 L815.0,1048.2 L814.5,1046.6 L814.0,1045.1 L813.5,1043.6 L813.0,1042.5 L812.5,1043.7 L812.0,1045.0 L811.5,1046.3 L811.0,1047.6 L810.5,1048.9 L810.0,1050.1 L809.5,1051.4 L809.0,1052.6 L808.5,1053.8 L808.0,1054.9 L807.5,1055.9 L807.0,1056.8 L806.5,1057.6 L806.0,1058.3 L805.5,1058.9 L805.0,1059.4 L804.5,1059.9 L804.0,1060.4 L803.5,1060.9 L803.0,1061.4 L802.5,1061.8 L802.0,1062.0 L801.5,1062.0 L801.0,1062.0 L800.5,1062.0 L800.0,1062.0 L799.5,1062.0 L799.0,1062.0 L798.5,1062.0 L798.0,1062.0 L797.5,1062.0 L797.0,1062.0 L796.5,1062.0 L796.0,1062.0 L795.5,1062.0 L795.0,1062.0 L794.5,1062.0 L794.0,1061.8 L793.5,1061.7 L793.0,1061.4 L792.5,1061.1 L792.0,1060.7 L791.5,1060.3 L791.0,1059.8 L790.5,1059.2 L790.0,1058.6 L789.5,1058.0 L789.0,1057.3 L788.5,1056.6 L788.0,1055.9 L787.5,1055.1 L787.0,1054.3 L786.5,1053.4 L786.0,1052.6 L785.5,1051.7 L785.0,1050.8 L784.5,1049.8 L784.0,1048.9 L783.5,1047.9 L783.0,1047.0 L782.5,1046.0 L782.0,1045.0 L781.5,1044.0 L781.0,1043.0 L780.5,1042.0 L780.0,1041.0 L779.5,1040.1 L779.0,1039.1 L778.5,1038.1 L778.0,1037.2 L777.5,1036.3 L777.0,1035.4 L776.5,1034.5 L776.0,1033.7 L775.5,1032.9 L775.0,1032.1 L774.5,1031.3 L774.0,1030.6 L773.5,1029.9 L773.0,1030.0 L772.5,1031.8 L772.0,1033.7 L771.5,1035.8 L771.0,1038.0 L770.5,1040.2 L770.0,1042.5 L769.5,1044.9 L769.0,1047.2 L768.5,1049.6 L768.0,1051.9 L767.5,1054.1 L767.0,1056.3 L766.5,1058.4 L766.0,1060.3 L765.5,1062.1 L765.0,1063.8 L764.5,1065.2 L764.0,1066.4 L763.5,1067.4 L763.0,1068.1 L762.5,1068.6 L762.0,1069.1 L761.5,1069.6 L761.0,1070.1 L760.5,1070.6 L760.0,1071.0 L759.5,1071.0 L759.0,1071.0 L758.5,1071.0 L758.0,1071.0 L757.5,1071.0 L757.0,1071.0 L756.5,1071.0 L756.0,1071.0 L755.5,1071.0 L755.0,1071.0 L754.5,1071.0 L754.0,1071.0 L753.5,1071.0 L753.0,1071.0 L752.5,1070.7 L752.0,1070.1 L751.5,1069.3 L751.0,1068.3 L750.5,1067.0 L750.0,1065.6 L749.5,1064.0 L749.0,1062.3 L748.5,1060.5 L748.0,1058.6 L747.5,1056.6 L747.0,1054.6 L746.5,1052.6 L746.0,1050.5 L745.5,1048.5 L745.0,1046.5 L744.5,1044.5 L744.0,1042.6 L743.5,1040.9 L743.0,1039.2 L742.5,1037.7 L742.0,1036.4 L741.5,1036.0 L741.0,1036.5 L740.5,1037.0 L740.0,1037.5 L739.5,1038.0 L739.0,1038.5 L738.5,1038.9 L738.0,1039.2 L737.5,1039.5 L737.0,1039.7 L736.5,1039.8 L736.0,1039.8 L735.5,1039.8 L735.0,1039.8 L734.5,1039.8 L734.0,1039.8 L733.5,1039.8 L733.0,1039.8 L732.5,1039.8 L732.0,1039.8 L731.5,1039.8 L731.0,1039.8 L730.5,1039.8 L730.0,1039.8 L729.5,1039.8 L729.0,1039.4 L728.5,1038.8 L728.0,1037.9 L727.5,1036.8 L727.0,1035.6 L726.5,1034.1 L726.0,1032.5 L725.5,1030.8 L725.0,1028.9 L724.5,1026.9 L724.0,1024.9 L723.5,1022.8 L723.0,1020.6 L722.5,1018.4 L722.0,1016.3 L721.5,1014.1 L721.0,1012.0 L720.5,1010.0 L720.0,1008.0 L719.5,1006.1 L719.0,1004.4 L718.5,1002.8 L718.0,1003.4 L717.5,1004.6 L717.0,1005.8 L716.5,1007.0 L716.0,1008.1 L715.5,1009.2 L715.0,1010.3 L714.5,1011.2 L714.0,1012.1 L713.5,1012.9 L713.0,1013.6 L712.5,1014.2 L712.0,1014.7 L711.5,1015.2 L711.0,1015.7 L710.5,1016.2 L710.0,1016.7 L709.5,1017.1 L709.0,1017.3 L708.5,1017.3 L708.0,1017.3 L707.5,1017.3 L707.0,1017.3 L706.5,1017.3 L706.0,1017.3 L705.5,1017.3 L705.0,1017.3 L704.5,1017.3 L704.0,1017.3 L703.5,1017.3 L703.0,1017.3 L702.5,1017.3 L702.0,1017.3 L701.5,1017.0 L701.0,1016.5 L700.5,1015.7 L700.0,1014.6 L699.5,1013.3 L699.0,1011.8 L698.5,1010.1 L698.0,1008.3 L697.5,1006.4 L697.0,1004.3 L696.5,1002.2 L696.0,1000.0 L695.5,997.8 L695.0,995.5 L694.5,993.2 L694.0,991.0 L693.5,988.8 L693.0,986.7 L692.5,984.7 L692.0,982.8 L691.5,981.9 L691.0,983.4 L690.5,985.0 L690.0,986.6 L689.5,988.2 L689.0,989.8 L688.5,991.4 L688.0,992.9 L687.5,994.3 L687.0,995.7 L686.5,997.0 L686.0,998.1 L685.5,999.1 L685.0,999.9 L684.5,1000.6 L684.0,1001.1 L683.5,1001.6 L683.0,1002.1 L682.5,1002.6 L682.0,1003.1 L681.5,1003.5 L681.0,1003.7 L680.5,1003.7 L680.0,1003.7 L679.5,1003.7 L679.0,1003.7 L678.5,1003.7 L678.0,1003.7 L677.5,1003.7 L677.0,1003.7 L676.5,1003.7 L676.0,1003.7 L675.5,1003.7 L675.0,1003.7 L674.5,1003.7 L674.0,1003.7 L673.5,1003.4 L673.0,1002.9 L672.5,1002.2 L672.0,1001.3 L671.5,1000.2 L671.0,999.1 L670.5,997.8 L670.0,996.4 L669.5,995.0 L669.0,993.4 L668.5,991.9 L668.0,990.3 L667.5,988.7 L667.0,987.2 L666.5,985.6 L666.0,984.2 L665.5,982.8 L665.0,983.5 L664.5,985.0 L664.0,986.5 L663.5,988.1 L663.0,989.7 L662.5,991.3 L662.0,992.9 L661.5,994.5 L661.0,996.0 L660.5,997.5 L660.0,998.9 L659.5,1000.2 L659.0,1001.4 L658.5,1002.5 L658.0,1003.4 L657.5,1004.2 L657.0,1004.8 L656.5,1005.3 L656.0,1005.8 L655.5,1006.3 L655.0,1006.8 L654.5,1007.3 L654.0,1007.7 L653.5,1007.9 L653.0,1007.9 L652.5,1007.9 L652.0,1007.9 L651.5,1007.9 L651.0,1007.9 L650.5,1007.9 L650.0,1007.9 L649.5,1007.9 L649.0,1007.9 L648.5,1007.9 L648.0,1007.9 L647.5,1007.9 L647.0,1007.9 L646.5,1007.8 L646.0,1007.4 L645.5,1006.7 L645.0,1005.8 L644.5,1004.6 L644.0,1003.2 L643.5,1001.7 L643.0,1000.0 L642.5,998.3 L642.0,996.4 L641.5,994.5 L641.0,992.6 L640.5,990.7 L640.0,988.8 L639.5,987.1 L639.0,986.7 L638.5,988.3 L638.0,989.9 L637.5,991.6 L637.0,993.3 L636.5,995.0 L636.0,996.6 L635.5,998.3 L635.0,999.9 L634.5,1001.4 L634.0,1002.9 L633.5,1004.3 L633.0,1005.6 L632.5,1006.8 L632.0,1007.8 L631.5,1008.7 L631.0,1009.4 L630.5,1009.9 L630.0,1010.4 L629.5,1010.9 L629.0,1011.4 L628.5,1011.9 L628.0,1012.4 L627.5,1012.7 L627.0,1012.7 L626.5,1012.7 L626.0,1012.7 L625.5,1012.7 L625.0,1012.7 L624.5,1012.7 L624.0,1012.7 L623.5,1012.7 L623.0,1012.7 L622.5,1012.7 L622.0,1012.7 L621.5,1012.7 L621.0,1012.7 L620.5,1012.7 L620.0,1012.4 L619.5,1011.9 L619.0,1011.0 L618.5,1010.0 L618.0,1008.7 L617.5,1007.3 L617.0,1005.7 L616.5,1004.0 L616.0,1002.2 L615.5,1000.4 L615.0,998.5 L614.5,996.6 L614.0,994.7 L613.5,992.9 L613.0,991.5 L612.5,993.3 L612.0,995.3 L611.5,997.2 L611.0,999.2 L610.5,1001.2 L610.0,1003.1 L609.5,1005.1 L609.0,1006.9 L608.5,1008.7 L608.0,1010.3 L607.5,1011.9 L607.0,1013.3 L606.5,1014.5 L606.0,1015.5 L605.5,1016.3 L605.0,1016.9 L604.5,1017.4 L604.0,1017.9 L603.5,1018.4 L603.0,1018.9 L602.5,1019.4 L602.0,1019.6 L601.5,1019.6 L601.0,1019.6 L600.5,1019.6 L600.0,1019.6 L599.5,1019.6 L599.0,1019.6 L598.5,1019.6 L598.0,1019.6 L597.5,1019.6 L597.0,1019.6 L596.5,1019.6 L596.0,1019.6 L595.5,1019.6 L595.0,1019.6 L594.5,1019.2 L594.0,1018.6 L593.5,1017.7 L593.0,1016.6 L592.5,1015.4 L592.0,1014.0 L591.5,1012.4 L591.0,1010.7 L590.5,1009.0 L590.0,1007.1 L589.5,1005.3 L589.0,1003.4 L588.5,1001.5 L588.0,999.6 L587.5,997.8 L587.0,996.3 L586.5,998.4 L586.0,1000.5 L585.5,1002.7 L585.0,1005.0 L584.5,1007.3 L584.0,1009.5 L583.5,1011.7 L583.0,1013.9 L582.5,1015.9 L582.0,1017.9 L581.5,1019.7 L581.0,1021.3 L580.5,1022.8 L580.0,1024.0 L579.5,1025.0 L579.0,1025.7 L578.5,1026.2 L578.0,1026.7 L577.5,1027.2 L577.0,1027.7 L576.5,1028.2 L576.0,1028.6 L575.5,1028.6 L575.0,1028.6 L574.5,1028.6 L574.0,1028.6 L573.5,1028.6 L573.0,1028.6 L572.5,1028.6 L572.0,1028.6 L571.5,1028.6 L571.0,1028.6 L570.5,1028.6 L570.0,1028.6 L569.5,1028.6 L569.0,1028.6 L568.5,1028.2 L568.0,1027.4 L567.5,1026.4 L567.0,1025.0 L566.5,1023.5 L566.0,1021.7 L565.5,1019.8 L565.0,1017.8 L564.5,1015.6 L564.0,1013.4 L563.5,1011.2 L563.0,1009.0 L562.5,1006.8 L562.0,1006.3 L561.5,1008.7 L561.0,1011.2 L560.5,1013.7 L560.0,1016.3 L559.5,1018.8 L559.0,1021.2 L558.5,1023.6 L558.0,1025.8 L557.5,1027.9 L557.0,1029.7 L556.5,1031.4 L556.0,1032.8 L555.5,1033.9 L555.0,1034.7 L554.5,1035.3 L554.0,1035.8 L553.5,1036.3 L553.0,1036.8 L552.5,1037.3 L552.0,1037.6 L551.5,1037.6 L551.0,1037.6 L550.5,1037.6 L550.0,1037.6 L549.5,1037.6 L549.0,1037.6 L548.5,1037.6 L548.0,1037.6 L547.5,1037.6 L547.0,1037.6 L546.5,1037.6 L546.0,1037.6 L545.5,1037.6 L545.0,1037.5 L544.5,1037.0 L544.0,1036.1 L543.5,1034.9 L543.0,1033.4 L542.5,1031.7 L542.0,1029.7 L541.5,1027.5 L541.0,1025.1 L540.5,1022.7 L540.0,1020.1 L539.5,1017.4 L539.0,1014.8 L538.5,1012.1 L538.0,1009.5 L537.5,1006.9 L537.0,1004.5 L536.5,1004.9 L536.0,1007.5 L535.5,1010.2 L535.0,1012.9 L534.5,1015.7 L534.0,1018.4 L533.5,1021.2 L533.0,1023.9 L532.5,1026.5 L532.0,1029.0 L531.5,1031.3 L531.0,1033.5 L530.5,1035.5 L530.0,1037.3 L529.5,1038.8 L529.0,1040.0 L528.5,1041.0 L528.0,1041.6 L527.5,1042.1 L527.0,1042.6 L526.5,1043.1 L526.0,1043.6 L525.5,1044.0 L525.0,1044.1 L524.5,1044.1 L524.0,1044.1 L523.5,1044.1 L523.0,1044.1 L522.5,1044.1 L522.0,1044.1 L521.5,1044.1 L521.0,1044.1 L520.5,1044.1 L520.0,1044.1 L519.5,1044.1 L519.0,1044.1 L518.5,1044.1 L518.0,1043.7 L517.5,1042.9 L517.0,1041.7 L516.5,1040.2 L516.0,1038.5 L515.5,1036.4 L515.0,1034.2 L514.5,1031.8 L514.0,1029.3 L513.5,1026.7 L513.0,1024.0 L512.5,1021.4 L511.9,1021.2 L511.4,1025.5 L510.9,1029.9 L510.4,1034.3 L509.9,1038.6 L509.4,1042.8 L508.9,1046.6 L508.4,1050.2 L507.9,1053.3 L507.4,1055.9 L506.9,1057.9 L506.4,1059.2 L505.9,1059.8 L505.4,1060.3 L504.9,1060.8 L504.4,1061.3 L503.9,1061.8 L503.4,1062.0 L502.9,1062.0 L502.4,1062.0 L501.9,1062.0 L501.4,1062.0 L500.9,1062.0 L500.4,1062.0 L499.9,1062.0 L499.4,1062.0 L498.9,1062.0 L498.4,1062.0 L497.9,1062.0 L497.4,1062.0 L496.9,1062.0 L496.4,1061.3 L495.9,1059.9 L495.4,1057.8 L494.9,1055.1 L494.4,1051.9 L493.9,1048.1 L493.4,1043.8 L492.9,1039.2 L492.4,1034.1 L491.9,1028.8 L491.4,1023.1 L490.9,1017.3 L490.4,1011.2 L489.9,1005.1 L489.4,998.8 L488.9,992.6 L488.4,986.3 L487.9,980.2 L487.4,974.1 L486.9,968.3 L486.4,962.6 L485.9,957.3 L485.4,952.2 L484.9,947.6 L484.4,943.3 L483.9,939.5 L483.4,936.3 L482.9,936.0 L482.4,936.7 L481.9,937.3 L481.4,937.8 L480.9,938.3 L480.4,938.8 L479.9,939.3 L479.4,939.8 L478.9,940.2 L478.4,940.5 L477.9,940.6 L477.4,940.6 L476.9,940.6 L476.4,940.6 L475.9,940.6 L475.4,940.6 L474.9,940.6 L474.4,940.6 L473.9,940.6 L473.4,940.6 L472.9,940.6 L472.4,940.6 L471.9,940.6 L471.4,940.6 L470.9,940.5 L470.4,939.8 L469.9,938.7 L469.4,937.1 L468.9,935.1 L468.4,932.7 L467.9,930.0 L467.4,927.1 L466.9,923.8 L466.4,920.4 L465.9,916.8 L465.4,913.0 L464.9,909.2 L464.4,905.2 L463.9,901.3 L463.4,897.3 L462.9,893.4 L462.4,889.6 L461.9,885.9 L461.4,886.3 L460.9,891.7 L460.4,897.4 L459.9,903.1 L459.4,909.0 L458.9,914.8 L458.4,920.5 L457.9,925.9 L457.4,931.1 L456.9,935.9 L456.4,940.3 L455.9,944.1 L455.4,947.3 L454.9,949.7 L454.4,951.4 L453.9,952.2 L453.4,952.7 L452.9,953.2 L452.4,953.7 L451.9,954.2 L451.4,954.5 L450.9,954.5 L450.4,954.5 L449.9,954.5 L449.4,954.5 L448.9,954.5 L448.4,954.5 L447.9,954.5 L447.4,954.5 L446.9,954.5 L446.4,954.5 L445.9,954.5 L445.4,954.5 L444.9,954.5 L444.4,953.6 L443.9,951.3 L443.4,948.0 L442.9,943.6 L442.4,938.3 L441.9,932.2 L441.4,925.5 L440.9,918.3 L440.4,910.6 L439.9,902.6 L439.4,894.5 L438.9,886.3 L438.4,878.2 L437.9,870.3 L437.4,870.4 L436.9,878.6 L436.4,887.1 L435.9,895.7 L435.4,904.5 L434.9,913.3 L434.4,921.9 L433.9,930.4 L433.4,938.6 L432.9,946.4 L432.4,953.7 L431.9,960.4 L431.4,966.5 L430.9,971.8 L430.4,976.2 L429.9,979.7 L429.4,982.1 L428.9,983.3 L428.4,983.8 L427.9,984.3 L427.4,984.8 L426.9,985.3 L426.4,985.8 L425.9,985.9 L425.4,985.9 L424.9,985.9 L424.4,985.9 L423.9,985.9 L423.4,985.9 L422.9,985.9 L422.4,985.9 L421.9,985.9 L421.4,985.9 L420.9,985.9 L420.4,985.9 L419.9,985.9 L419.4,981.7 L418.9,970.7 L418.4,954.7 L417.9,935.7 L417.4,915.9 L416.9,896.4 L416.4,872.7 L415.9,846.1 L415.4,819.3 L414.9,794.9 L414.4,771.5 L413.9,748.7 L413.4,726.3 L412.9,704.4 L412.4,682.7 L411.9,661.5 L411.4,640.6 L410.9,620.2 L410.4,600.4 L409.9,581.2 L409.4,562.5 L408.9,544.3 L408.4,526.6Z" fill="#0000ff"/>
<path d="M408.0,862.4 L409.0,860.4 L410.0,858.5 L411.0,856.5 L412.0,854.5 L413.0,852.5 L414.0,850.5 L415.0,848.5 L416.0,846.4 L417.0,844.3 L418.0,842.2 L419.0,840.1 L420.0,838.0 L421.0,835.8 L422.0,833.6 L423.0,831.4 L424.0,829.1 L425.0,826.8 L426.0,824.5 L427.0,822.2 L428.0,819.8 L429.0,817.4 L430.0,814.9 L431.0,812.4 L432.0,810.0 L433.0,807.4 L434.0,804.9 L435.0,802.4 L436.0,799.8 L437.0,797.3 L438.0,794.7 L439.0,792.2 L440.0,789.7 L441.0,787.2 L442.0,784.7 L443.0,782.3 L444.0,779.8 L445.0,777.4 L446.0,775.0 L447.0,772.7 L448.0,770.4 L449.0,768.1 L450.0,765.8 L451.0,763.5 L452.0,761.3 L453.0,759.1 L454.0,756.9 L455.0,754.8 L456.0,752.7 L457.0,750.6 L458.0,748.6 L459.0,746.6 L460.0,744.7 L461.0,742.8 L462.0,740.9 L463.0,739.1 L464.0,737.3 L465.0,735.5 L466.0,733.7 L467.0,732.0 L468.0,730.2 L469.0,728.5 L470.0,726.8 L471.0,725.0 L472.0,723.3 L473.0,721.5 L474.0,719.8 L475.0,718.0 L476.0,716.3 L477.0,714.5 L478.0,712.8 L479.0,711.0 L480.0,709.2 L481.0,707.4 L482.0,705.6 L483.0,703.9 L484.0,702.1 L485.0,700.3 L486.0,698.5 L487.0,696.8 L488.0,695.0 L489.0,693.1 L490.0,691.2 L491.0,689.2 L492.0,687.1 L493.0,684.9 L494.0,682.5 L495.0,680.0 L496.0,677.4 L497.0,674.6 L498.0,671.8 L499.0,668.9 L500.0,666.1 L501.0,663.2 L502.0,660.3 L503.0,657.4 L504.0,654.6 L505.0,651.9 L506.0,649.3 L507.0,646.8 L508.0,644.2 L509.0,641.8 L510.0,639.4 L511.0,637.0 L512.0,634.6 L513.0,632.3 L514.0,630.0 L515.0,627.7 L516.0,625.4 L517.0,623.2 L518.0,621.0 L519.0,618.8 L520.0,616.6 L521.0,614.5 L522.0,612.4 L523.0,610.3 L524.0,608.2 L525.0,606.1 L526.0,604.0 L527.0,602.0 L528.0,599.9 L529.0,597.9 L530.0,595.9 L531.0,593.9 L532.0,591.9 L533.0,589.9 L534.0,587.8 L535.0,585.8 L536.0,583.8 L537.0,581.8 L538.0,579.7 L539.0,577.7 L540.0,575.7 L541.0,573.6 L542.0,571.6 L543.0,569.6 L544.0,567.6 L545.0,565.6 L546.0,563.7 L547.0,561.7 L548.0,559.7 L549.0,557.8 L550.0,555.8 L551.0,553.8 L552.0,551.9 L553.0,549.9 L554.0,547.9 L555.0,546.0 L556.0,544.0 L557.0,542.0 L558.0,540.0 L559.0,538.1 L560.0,536.1 L561.0,534.1 L562.0,532.1 L563.0,530.1 L564.0,528.1 L565.0,526.1 L566.0,524.1 L567.0,522.1 L568.0,520.1 L569.0,518.1 L570.0,516.1 L571.0,514.1 L572.0,512.2 L573.0,510.2 L574.0,508.2 L575.0,506.3 L576.0,504.3 L577.0,502.4 L578.0,500.5 L579.0,498.5 L580.0,496.6 L581.0,494.7 L582.0,492.8 L583.0,490.9 L584.0,489.0 L585.0,487.1 L586.0,485.2 L587.0,483.4 L588.0,481.5 L589.0,479.7 L590.0,477.8 L591.0,476.0 L592.0,474.1 L593.0,472.3 L594.0,470.5 L595.0,468.7 L596.0,466.9 L597.0,465.1 L598.0,463.4 L599.0,461.6 L600.0,459.8 L601.0,458.1 L602.0,456.3 L603.0,454.6 L604.0,452.9 L605.0,451.2 L606.0,449.5 L607.0,447.8 L608.0,446.1 L609.0,444.4 L610.0,442.7 L611.0,441.0 L612.0,439.4 L613.0,437.7 L614.0,436.1 L615.0,434.4 L616.0,432.8 L617.0,431.2 L618.0,429.6 L619.0,428.0 L620.0,426.4 L621.0,424.8 L622.0,423.2 L623.0,421.6 L624.0,420.1 L625.0,418.5 L626.0,416.9 L627.0,415.4 L628.0,413.8 L629.0,412.3 L630.0,410.8 L631.0,409.2 L632.0,407.7 L633.0,406.2 L634.0,404.7 L635.0,403.2 L636.0,401.7 L637.0,400.2 L638.0,398.7 L639.0,397.2 L640.0,395.8 L641.0,394.3 L642.0,392.8 L643.0,391.4 L644.0,389.9 L645.0,388.4 L646.0,387.0 L647.0,385.5 L648.0,384.1 L649.0,382.7 L650.0,381.2 L651.0,379.8 L652.0,378.4 L653.0,376.9 L654.0,375.5 L655.0,374.1 L656.0,372.7 L657.0,371.3 L658.0,369.9 L659.0,368.5 L660.0,367.1 L661.0,365.7 L662.0,364.3 L663.0,362.9 L664.0,361.5 L665.0,360.1 L666.0,358.7 L667.0,357.3 L668.0,355.9 L669.0,354.5 L670.0,353.1 L671.0,351.7 L672.0,350.3 L673.0,349.0 L674.0,347.6 L675.0,346.2 L676.0,344.8 L677.0,343.4 L678.0,342.1 L679.0,340.7 L680.0,339.3 L681.0,337.9 L682.0,336.6 L683.0,335.2 L684.0,333.8 L685.0,332.4 L686.0,331.1 L687.0,329.7 L688.0,328.3 L689.0,326.9 L690.0,325.6 L691.0,324.2 L692.0,322.8 L693.0,321.5 L694.0,320.1 L695.0,318.7 L696.0,317.3 L697.0,316.0 L698.0,314.6 L699.0,313.2 L700.0,311.8 L701.0,310.5 L702.0,309.1 L703.0,307.7 L704.0,306.4 L705.0,305.0 L706.0,303.6 L707.0,302.2 L708.0,300.9 L709.0,299.5 L710.0,298.1 L711.0,296.8 L712.0,295.4 L713.0,294.0 L714.0,292.6 L715.0,291.3 L716.0,289.9 L717.0,288.5 L718.0,287.1 L719.0,285.8 L720.0,284.4 L721.0,283.0 L722.0,281.7 L723.0,280.3 L724.0,278.9 L725.0,277.6 L726.0,276.2 L727.0,274.8 L728.0,273.5 L729.0,272.1 L730.0,270.7 L731.0,269.4 L732.0,268.0 L733.0,266.6 L734.0,265.3 L735.0,263.9 L736.0,262.6 L737.0,261.2 L738.0,259.8 L739.0,258.5 L740.0,257.1 L741.0,255.8 L742.0,254.4 L743.0,253.1 L744.0,251.7 L745.0,250.4 L746.0,249.1 L747.0,247.7 L748.0,246.4 L749.0,245.0 L750.0,243.7 L751.0,242.4 L752.0,241.1 L753.0,239.7 L754.0,238.4 L755.0,237.1 L756.0,235.8 L757.0,234.5 L758.0,233.2 L759.0,231.9 L760.0,230.6 L761.0,229.3 L762.0,228.0 L763.0,226.7 L764.0,225.4 L765.0,224.1 L766.0,222.8 L767.0,221.6 L768.0,220.3 L769.0,219.0 L770.0,217.8 L771.0,216.5 L772.0,215.2 L773.0,214.0 L774.0,212.8 L775.0,211.5 L776.0,210.3 L777.0,209.1 L778.0,207.8 L779.0,206.6 L780.0,205.4 L781.0,204.2 L782.0,203.0 L783.0,201.8 L784.0,200.6 L785.0,199.4 L786.0,198.3 L787.0,197.1 L788.0,195.9 L789.0,194.8 L790.0,193.6 L791.0,192.5 L792.0,191.4 L793.0,190.2 L794.0,189.1 L795.0,188.0 L796.0,186.9 L797.0,185.8 L798.0,184.7 L799.0,183.6 L800.0,182.5 L801.0,181.4 L802.0,180.4 L803.0,179.3 L804.0,178.3 L805.0,177.2 L806.0,176.2 L807.0,175.2 L808.0,174.1 L809.0,173.1 L810.0,172.1 L811.0,171.1 L812.0,170.1 L813.0,169.1 L814.0,168.1 L815.0,167.2 L816.0,166.2 L817.0,165.2 L818.0,164.3 L819.0,163.3 L820.0,162.4 L821.0,161.5 L822.0,160.5 L823.0,159.6 L824.0,158.7 L825.0,157.8 L826.0,156.9 L827.0,156.1 L828.0,155.2 L829.0,154.3 L830.0,153.5 L831.0,152.6 L832.0,151.8 L833.0,151.0 L834.0,150.2 L835.0,149.3 L836.0,148.5 L837.0,147.8 L838.0,147.0 L839.0,146.2 L840.0,145.4 L841.0,144.7 L842.0,143.9 L843.0,143.2 L844.0,142.5 L845.0,141.8 L846.0,141.1 L847.0,140.4 L848.0,139.7 L849.0,139.0 L850.0,138.3 L851.0,137.6 L852.0,137.0 L853.0,136.3 L854.0,135.7 L855.0,135.1 L856.0,134.4 L857.0,133.8 L858.0,133.2 L859.0,132.6 L860.0,132.0 L861.0,131.5 L862.0,130.9 L863.0,130.3 L864.0,129.8 L865.0,129.2 L866.0,128.7 L867.0,128.1 L868.0,127.6 L869.0,127.1 L870.0,126.6 L871.0,126.1 L872.0,125.6 L873.0,125.1 L874.0,124.6 L875.0,124.2 L876.0,123.7 L877.0,123.3 L878.0,122.8 L879.0,122.4 L880.0,121.9 L881.0,121.5 L882.0,121.1 L883.0,120.7 L884.0,120.3 L885.0,119.9 L886.0,119.5 L887.0,119.1 L888.0,118.7 L889.0,118.3 L890.0,118.0 L891.0,117.6 L892.0,117.2 L893.0,116.9 L894.0,116.5 L895.0,116.2 L896.0,115.9 L897.0,115.5 L898.0,115.2 L899.0,114.9 L900.0,114.6 L901.0,114.3 L902.0,114.0 L903.0,113.7 L904.0,113.4 L905.0,113.1 L906.0,112.8 L907.0,112.5 L908.0,112.3 L909.0,112.0 L910.0,111.7 L911.0,111.5 L912.0,111.2 L913.0,111.0 L914.0,110.7 L915.0,110.5 L916.0,110.3 L917.0,110.0 L918.0,109.8 L919.0,109.6 L920.0,109.3 L921.0,109.1 L922.0,108.9 L923.0,108.7 L924.0,108.5 L925.0,108.3 L926.0,108.1 L927.0,107.9 L928.0,107.7 L929.0,107.5 L930.0,107.3 L931.0,107.1 L932.0,107.0 L933.0,106.8 L934.0,106.6 L935.0,106.5 L936.0,106.3 L937.0,106.1 L938.0,106.0 L939.0,105.8 L940.0,105.7 L941.0,105.6 L942.0,105.4 L943.0,105.3 L944.0,105.2 L945.0,105.0 L946.0,104.9 L947.0,104.8 L948.0,104.7 L949.0,104.6 L950.0,104.5 L951.0,104.4 L952.0,104.3 L953.0,104.3 L954.0,104.2 L955.0,104.1 L956.0,104.1 L957.0,104.0 L958.0,104.0 L959.0,104.0 L960.0,103.9 L961.0,103.9 L962.0,103.9 L963.0,103.9 L964.0,103.9 L965.0,103.9 L966.0,103.9 L967.0,103.9 L968.0,103.9 L969.0,103.9 L970.0,103.9 L971.0,104.0 L972.0,104.0 L973.0,104.1 L974.0,104.1 L975.0,104.2 L976.0,104.3 L977.0,104.4 L978.0,104.6 L979.0,104.7 L980.0,104.9 L981.0,105.0 L982.0,105.2 L983.0,105.4 L984.0,105.6 L985.0,105.7 L986.0,105.9 L987.0,106.1 L988.0,106.3 L989.0,106.5 L990.0,106.7 L991.0,106.9 L992.0,107.1 L993.0,107.4 L994.0,107.7 L995.0,108.0 L996.0,108.4 L997.0,108.8 L998.0,109.3 L999.0,109.9 L1000.0,110.5 L1001.0,111.2 L1002.0,112.0 L1003.0,112.8 L1004.0,113.7 L1005.0,114.6 L1006.0,115.5 L1007.0,116.5 L1008.0,117.4 L1009.0,118.3 L1010.0,119.1 L1011.0,120.0 L1012.0,120.7 L1013.0,121.4 L1014.0,121.9 L1015.0,122.4 L1016.0,122.8 L1017.0,123.1 L1018.0,123.4 L1019.0,123.5 L1020.0,123.6 L1021.0,123.7 L1022.0,123.8 L1023.0,123.9 L1024.0,123.9 L1025.0,123.9 L1026.0,123.9 L1027.0,123.9 L1028.0,123.9 L1029.0,123.9 L1030.0,123.9 L1031.0,123.9 L1032.0,123.9 L1033.0,123.9 L1034.0,123.9 L1035.0,124.0 L1036.0,124.0 L1037.0,124.1 L1038.0,124.3 L1039.0,124.4 L1040.0,124.6 L1041.0,124.7 L1042.0,124.9 L1043.0,125.1 L1044.0,125.3 L1045.0,125.6 L1046.0,125.8 L1047.0,126.1 L1048.0,126.4 L1049.0,126.7 L1050.0,127.0 L1051.0,127.3 L1052.0,127.6 L1053.0,128.0 L1054.0,128.4 L1055.0,128.8 L1056.0,129.2 L1057.0,129.7 L1058.0,130.2 L1059.0,130.7 L1060.0,131.2 L1061.0,131.8 L1062.0,132.4 L1063.0,133.0 L1064.0,133.6 L1065.0,134.2 L1066.0,134.9 L1067.0,135.5 L1068.0,136.2 L1069.0,136.9 L1070.0,137.6 L1071.0,138.3 L1072.0,139.1 L1073.0,139.8 L1074.0,140.6 L1075.0,141.3 L1076.0,142.1 L1077.0,142.8 L1078.0,143.6 L1079.0,144.3 L1080.0,145.0 L1081.0,145.8 L1082.0,146.5 L1083.0,147.3 L1084.0,148.0 L1085.0,148.7 L1086.0,149.4 L1087.0,150.1 L1088.0,150.8 L1089.0,151.6 L1090.0,152.3 L1091.0,153.0 L1092.0,153.8 L1093.0,154.5 L1094.0,155.3 L1095.0,156.0 L1096.0,156.8 L1097.0,157.5 L1098.0,158.3 L1099.0,159.1 L1100.0,159.9 L1101.0,160.7 L1102.0,161.4 L1103.0,162.2 L1104.0,163.0 L1105.0,163.9 L1106.0,164.7 L1107.0,165.5 L1108.0,166.3 L1109.0,167.1 L1110.0,168.0 L1111.0,168.8 L1112.0,169.7 L1113.0,170.5 L1114.0,171.4 L1115.0,172.2 L1116.0,173.1 L1117.0,173.9 L1118.0,174.8 L1119.0,175.7 L1120.0,176.6 L1121.0,177.5 L1122.0,178.4 L1123.0,179.3 L1124.0,180.2 L1125.0,181.1 L1126.0,182.0 L1127.0,182.9 L1128.0,183.8 L1129.0,184.8 L1130.0,185.7 L1131.0,186.6 L1132.0,187.6 L1133.0,188.5 L1134.0,189.5 L1135.0,190.4 L1136.0,191.4 L1137.0,192.4 L1138.0,193.3 L1139.0,194.3 L1140.0,195.3 L1141.0,196.3 L1142.0,197.3 L1143.0,198.3 L1144.0,199.3 L1145.0,200.3 L1146.0,201.3 L1147.0,202.3 L1148.0,203.3 L1149.0,204.3 L1150.0,205.4 L1151.0,206.4 L1152.0,207.4 L1153.0,208.5 L1154.0,209.5 L1155.0,210.6 L1156.0,211.6 L1157.0,212.7 L1158.0,213.7 L1159.0,214.8 L1160.0,215.9 L1161.0,217.0 L1162.0,218.0 L1163.0,219.1 L1164.0,220.2 L1165.0,221.3 L1166.0,222.4 L1167.0,223.5 L1168.0,224.6 L1169.0,225.7 L1170.0,226.9 L1171.0,228.0 L1172.0,229.1 L1173.0,230.2 L1174.0,231.4 L1175.0,232.5 L1176.0,233.7 L1177.0,234.8 L1178.0,236.0 L1179.0,237.1 L1180.0,238.3 L1181.0,239.4 L1182.0,240.6 L1183.0,241.8 L1184.0,243.0 L1185.0,244.1 L1186.0,245.3 L1187.0,246.5 L1188.0,247.7 L1189.0,248.9 L1190.0,250.1 L1191.0,251.3 L1192.0,252.5 L1193.0,253.7 L1194.0,255.0 L1195.0,256.2 L1196.0,257.4 L1197.0,258.6 L1198.0,259.9 L1199.0,261.1 L1200.0,262.4 L1201.0,263.6 L1202.0,264.9 L1203.0,266.1 L1204.0,267.4 L1205.0,268.6 L1206.0,269.9 L1207.0,271.2 L1208.0,272.4 L1209.0,273.7 L1210.0,275.0 L1211.0,276.3 L1212.0,277.6 L1213.0,278.9 L1214.0,280.2 L1215.0,281.5 L1216.0,282.8 L1217.0,284.1 L1218.0,285.4 L1219.0,286.7 L1220.0,288.0 L1221.0,289.3 L1222.0,290.7 L1223.0,292.0 L1224.0,293.3 L1225.0,294.7 L1226.0,296.0 L1227.0,297.4 L1228.0,298.7 L1229.0,300.1 L1230.0,301.4 L1231.0,302.8 L1232.0,304.1 L1233.0,305.5 L1234.0,306.9 L1235.0,308.2 L1236.0,309.6 L1237.0,311.0 L1238.0,312.4 L1239.0,313.8 L1240.0,315.2 L1241.0,316.6 L1242.0,318.0 L1243.0,319.4 L1244.0,320.8 L1245.0,322.2 L1246.0,323.6 L1247.0,325.0 L1248.0,326.4 L1249.0,327.8 L1250.0,329.3 L1251.0,330.7 L1252.0,332.1 L1253.0,333.5 L1254.0,335.0 L1255.0,336.4 L1256.0,337.9 L1257.0,339.3 L1258.0,340.8 L1259.0,342.2 L1260.0,343.7 L1261.0,345.1 L1262.0,346.6 L1263.0,348.1 L1264.0,349.5 L1265.0,351.0 L1266.0,352.5 L1267.0,354.0 L1268.0,355.5 L1269.0,356.9 L1270.0,358.4 L1271.0,359.9 L1272.0,361.4 L1273.0,362.9 L1274.0,364.4 L1275.0,365.9 L1276.0,367.4 L1277.0,368.9 L1278.0,370.4 L1279.0,372.0 L1280.0,373.5 L1281.0,375.0 L1282.0,376.5 L1283.0,378.0 L1284.0,379.6 L1285.0,381.1 L1286.0,382.6 L1287.0,384.2 L1288.0,385.7 L1289.0,387.3 L1290.0,388.8 L1291.0,390.4 L1292.0,391.9 L1293.0,393.5 L1294.0,395.0 L1295.0,396.6 L1296.0,398.2 L1297.0,399.7 L1298.0,401.3 L1299.0,402.9 L1300.0,404.5 L1301.0,406.0 L1302.0,407.6 L1303.0,409.2 L1304.0,410.8 L1305.0,412.4 L1306.0,414.0 L1307.0,415.6 L1308.0,417.2 L1309.0,418.8 L1310.0,420.4 L1311.0,422.0 L1312.0,423.6 L1313.0,425.2 L1314.0,426.8 L1315.0,428.4 L1316.0,430.0 L1317.0,431.6 L1318.0,433.3 L1319.0,434.9 L1320.0,436.5 L1321.0,438.1 L1322.0,439.8 L1323.0,441.4 L1324.0,443.1 L1325.0,444.7 L1326.0,446.3 L1327.0,448.0 L1328.0,449.6 L1329.0,451.3 L1330.0,452.9 L1331.0,454.6 L1332.0,456.2 L1333.0,457.9 L1334.0,459.6 L1335.0,461.2 L1336.0,462.9 L1337.0,464.6 L1338.0,466.2 L1339.0,467.9 L1340.0,469.6 L1341.0,471.3 L1342.0,472.9 L1343.0,474.6 L1344.0,476.3 L1345.0,478.0 L1346.0,479.7 L1347.0,481.4 L1348.0,483.1 L1349.0,484.8 L1350.0,486.5 L1351.0,488.2 L1352.0,489.9 L1353.0,491.6 L1354.0,493.3 L1355.0,495.0 L1356.0,496.7 L1357.0,498.4 L1358.0,500.1 L1359.0,501.9 L1360.0,503.6 L1361.0,505.3 L1362.0,507.0 L1363.0,508.8 L1364.0,510.5 L1365.0,512.2 L1366.0,513.9 L1367.0,515.7 L1368.0,517.4 L1369.0,519.2 L1370.0,520.9 L1371.0,522.6 L1372.0,524.4 L1373.0,526.1 L1374.0,527.9 L1375.0,529.6 L1376.0,531.4 L1377.0,533.1 L1378.0,534.9 L1379.0,536.7 L1380.0,538.4 L1381.0,540.2 L1382.0,542.0 L1383.0,543.7 L1384.0,545.5 L1385.0,547.3 L1386.0,549.0 L1387.0,550.8 L1388.0,552.6 L1389.0,554.4 L1390.0,556.2 L1391.0,557.9 L1392.0,559.7 L1393.0,561.5 L1394.0,563.3 L1395.0,565.1 L1396.0,566.9 L1397.0,568.7 L1398.0,570.5 L1399.0,572.3 L1400.0,574.1 L1401.0,575.9 L1402.0,577.7 L1403.0,579.5 L1404.0,581.3 L1405.0,583.1 L1406.0,584.9 L1407.0,586.7 L1408.0,588.6 L1409.0,590.4 L1410.0,592.2 L1411.0,594.0 L1412.0,595.8 L1413.0,597.7 L1414.0,599.5 L1415.0,601.3 L1416.0,603.1 L1417.0,605.0 L1418.0,606.8 L1419.0,608.7 L1420.0,610.5 L1421.0,612.3 L1422.0,614.2 L1423.0,616.0 L1424.0,617.9 L1425.0,619.7 L1426.0,621.6 L1427.0,623.4 L1428.0,625.3 L1429.0,627.1 L1430.0,629.0 L1431.0,630.8 L1432.0,632.7 L1433.0,634.5 L1434.0,636.4 L1435.0,638.3 L1436.0,640.1 L1437.0,642.0 L1438.0,643.9 L1439.0,645.7 L1440.0,647.6 L1441.0,649.5 L1442.0,651.4 L1443.0,653.2 L1444.0,655.1 L1445.0,657.0 L1446.0,658.9 L1447.0,660.8 L1448.0,662.7 L1449.0,664.5 L1450.0,666.4 L1451.0,668.3 L1452.0,670.2 L1453.0,672.1 L1454.0,674.0 L1455.0,675.9 L1456.0,677.8 L1457.0,679.7 L1458.0,681.6 L1459.0,683.5 L1460.0,685.4 L1461.0,687.3 L1462.0,689.2 L1463.0,691.2 L1464.0,693.1 L1465.0,695.0 L1466.0,696.9 L1467.0,698.8 L1468.0,700.8 L1469.0,702.7 L1470.0,704.6 L1471.0,706.5 L1472.0,708.5 L1473.0,710.4 L1474.0,712.3 L1475.0,714.2 L1476.0,716.2 L1477.0,718.1 L1478.0,720.1 L1479.0,722.0 L1480.0,723.9 L1481.0,725.9 L1482.0,727.8 L1483.0,729.8 L1484.0,731.7 L1485.0,733.7 L1486.0,735.6 L1487.0,737.6 L1488.0,739.5 L1489.0,741.5 L1490.0,743.5 L1491.0,745.4 L1492.0,747.4 L1493.0,749.3 L1494.0,751.3 L1495.0,753.3 L1496.0,755.2 L1497.0,757.2 L1498.0,759.2 L1499.0,761.2 L1500.0,763.1 L1501.0,765.1 L1502.0,767.1 L1503.0,769.1 L1504.0,771.1 L1505.0,773.1 L1506.0,775.0 L1507.0,777.0 L1508.0,779.0 L1509.0,781.0 L1510.0,783.0 L1511.0,785.0 L1512.0,787.0 L1513.0,789.0 L1514.0,791.0 L1515.0,793.0 L1516.0,795.0 L1517.0,797.0 L1518.0,799.0 L1519.0,801.1 L1520.0,803.1 L1521.0,805.1 L1522.0,807.1 L1523.0,809.1 L1524.0,811.1 L1525.0,813.2 L1526.0,815.2 L1527.0,817.2 L1528.0,819.3 L1529.0,821.3 L1530.0,823.3 L1531.0,825.4 L1532.0,827.4 L1533.0,829.4 L1534.0,831.5 L1535.0,833.5 L1536.0,835.6 L1537.0,837.6 L1538.0,839.7 L1539.0,841.7 L1540.0,843.8 L1541.0,845.8 L1542.0,847.9 L1543.0,849.9 L1544.0,852.0 L1545.0,854.1 L1546.0,856.1 L1547.0,858.2 L1548.0,860.3 L1549.0,862.4 L1550.0,864.4 L1551.0,866.5 L1552.0,868.6 L1553.0,870.7 L1554.0,872.8 L1555.0,874.8 L1556.0,876.9 L1557.0,879.0 L1558.0,881.1 L1559.0,883.2 L1560.0,885.3 L1561.0,887.4 L1562.0,889.5 L1563.0,891.6 L1564.0,893.7 L1565.0,895.8 L1566.0,897.9 L1567.0,900.1 L1568.0,902.2 L1569.0,904.3 L1570.0,906.4 L1571.0,908.5 L1572.0,910.7 L1573.0,912.8 L1574.0,914.9 L1575.0,917.0 L1576.0,919.2 L1577.0,921.3 L1578.0,923.5 L1579.0,925.6 L1580.0,927.8 L1581.0,929.9 L1582.0,932.1 L1583.0,934.2 L1584.0,936.4 L1585.0,938.5 L1586.0,940.7 L1587.0,942.8 L1588.0,945.0 L1589.0,947.2 L1590.0,949.4 L1591.0,951.5 L1592.0,953.7 L1593.0,955.9 L1594.0,958.1 L1595.0,960.3 L1596.0,962.4 L1597.0,964.6 L1598.0,966.8 L1599.0,969.0 L1600.0,971.2 L1601.0,973.4 L1602.0,975.6 L1603.0,977.8 L1604.0,980.1 L1605.0,982.3 L1606.0,984.5 L1607.0,986.7 L1608.0,988.9 L1609.0,991.2 L1610.0,993.4 L1611.0,995.6 L1612.0,997.9 L1613.0,1000.1 L1614.0,1002.3 L1615.0,1004.6 L1616.0,1006.8 L1617.0,1009.1 L1618.0,1011.3 L1619.0,1013.6 L1620.0,1015.9 L1621.0,1018.1 L1622.0,1020.4 L1623.0,1022.7 L1624.0,1024.9 L1625.0,1027.2 L1626.0,1029.5 L1626.0,1035.7 L1625.0,1036.7 L1624.0,1037.7 L1623.0,1038.1 L1622.0,1038.1 L1621.0,1038.1 L1620.0,1038.1 L1619.0,1038.1 L1618.0,1038.1 L1617.0,1037.2 L1616.0,1035.0 L1615.0,1032.7 L1614.0,1030.4 L1613.0,1028.1 L1612.0,1025.9 L1611.0,1023.6 L1610.0,1021.3 L1609.0,1019.1 L1608.0,1016.8 L1607.0,1014.6 L1606.0,1012.3 L1605.0,1010.1 L1604.0,1007.9 L1603.0,1005.6 L1602.0,1003.4 L1601.0,1001.1 L1600.0,998.9 L1599.0,996.7 L1598.0,994.5 L1597.0,992.3 L1596.0,990.0 L1595.0,987.8 L1594.0,985.6 L1593.0,983.4 L1592.0,981.2 L1591.0,979.0 L1590.0,976.8 L1589.0,974.6 L1588.0,972.4 L1587.0,970.2 L1586.0,968.0 L1585.0,965.8 L1584.0,963.7 L1583.0,961.5 L1582.0,959.3 L1581.0,957.1 L1580.0,955.0 L1579.0,952.8 L1578.0,950.6 L1577.0,948.5 L1576.0,946.3 L1575.0,944.2 L1574.0,942.0 L1573.0,939.8 L1572.0,937.7 L1571.0,935.5 L1570.0,933.4 L1569.0,931.3 L1568.0,929.1 L1567.0,927.0 L1566.0,924.8 L1565.0,922.7 L1564.0,920.6 L1563.0,918.5 L1562.0,916.3 L1561.0,914.2 L1560.0,912.1 L1559.0,910.0 L1558.0,907.9 L1557.0,905.7 L1556.0,903.6 L1555.0,901.5 L1554.0,899.4 L1553.0,897.3 L1552.0,895.2 L1551.0,893.1 L1550.0,891.0 L1549.0,888.9 L1548.0,886.8 L1547.0,884.7 L1546.0,882.7 L1545.0,880.6 L1544.0,878.5 L1543.0,876.4 L1542.0,874.3 L1541.0,872.3 L1540.0,870.2 L1539.0,868.1 L1538.0,866.0 L1537.0,864.0 L1536.0,861.9 L1535.0,859.8 L1534.0,857.8 L1533.0,855.7 L1532.0,853.7 L1531.0,851.6 L1530.0,849.5 L1529.0,847.5 L1528.0,845.4 L1527.0,843.4 L1526.0,841.4 L1525.0,839.3 L1524.0,837.3 L1523.0,835.2 L1522.0,833.2 L1521.0,831.2 L1520.0,829.1 L1519.0,827.1 L1518.0,825.1 L1517.0,823.0 L1516.0,821.0 L1515.0,819.0 L1514.0,817.0 L1513.0,815.0 L1512.0,812.9 L1511.0,810.9 L1510.0,808.9 L1509.0,806.9 L1508.0,804.9 L1507.0,802.9 L1506.0,800.9 L1505.0,798.9 L1504.0,796.9 L1503.0,794.9 L1502.0,792.9 L1501.0,790.9 L1500.0,788.9 L1499.0,786.9 L1498.0,784.9 L1497.0,782.9 L1496.0,780.9 L1495.0,778.9 L1494.0,776.9 L1493.0,775.0 L1492.0,773.0 L1491.0,771.0 L1490.0,769.0 L1489.0,767.1 L1488.0,765.1 L1487.0,763.1 L1486.0,761.1 L1485.0,759.2 L1484.0,757.2 L1483.0,755.2 L1482.0,753.3 L1481.0,751.3 L1480.0,749.4 L1479.0,747.4 L1478.0,745.4 L1477.0,743.5 L1476.0,741.5 L1475.0,739.6 L1474.0,737.6 L1473.0,735.7 L1472.0,733.8 L1471.0,731.8 L1470.0,729.9 L1469.0,727.9 L1468.0,726.0 L1467.0,724.1 L1466.0,722.1 L1465.0,720.2 L1464.0,718.3 L1463.0,716.3 L1462.0,714.4 L1461.0,712.5 L1460.0,710.6 L1459.0,708.6 L1458.0,706.7 L1457.0,704.8 L1456.0,702.9 L1455.0,701.0 L1454.0,699.0 L1453.0,697.1 L1452.0,695.2 L1451.0,693.3 L1450.0,691.4 L1449.0,689.5 L1448.0,687.6 L1447.0,685.7 L1446.0,683.8 L1445.0,681.9 L1444.0,680.0 L1443.0,678.1 L1442.0,676.2 L1441.0,674.3 L1440.0,672.4 L1439.0,670.5 L1438.0,668.7 L1437.0,666.8 L1436.0,664.9 L1435.0,663.0 L1434.0,661.1 L1433.0,659.3 L1432.0,657.4 L1431.0,655.5 L1430.0,653.6 L1429.0,651.8 L1428.0,649.9 L1427.0,648.0 L1426.0,646.2 L1425.0,644.3 L1424.0,642.4 L1423.0,640.6 L1422.0,638.7 L1421.0,636.9 L1420.0,635.0 L1419.0,633.2 L1418.0,631.3 L1417.0,629.5 L1416.0,627.6 L1415.0,625.8 L1414.0,623.9 L1413.0,622.1 L1412.0,620.2 L1411.0,618.4 L1410.0,616.6 L1409.0,614.7 L1408.0,612.9 L1407.0,611.1 L1406.0,609.2 L1405.0,607.4 L1404.0,605.6 L1403.0,603.8 L1402.0,601.9 L1401.0,600.1 L1400.0,598.3 L1399.0,596.5 L1398.0,594.7 L1397.0,592.8 L1396.0,591.0 L1395.0,589.2 L1394.0,587.4 L1393.0,585.6 L1392.0,583.8 L1391.0,582.0 L1390.0,580.2 L1389.0,578.4 L1388.0,576.6 L1387.0,574.8 L1386.0,573.0 L1385.0,571.2 L1384.0,569.4 L1383.0,567.7 L1382.0,565.9 L1381.0,564.1 L1380.0,562.3 L1379.0,560.5 L1378.0,558.8 L1377.0,557.0 L1376.0,555.2 L1375.0,553.4 L1374.0,551.7 L1373.0,549.9 L1372.0,548.1 L1371.0,546.4 L1370.0,544.6 L1369.0,542.8 L1368.0,541.1 L1367.0,539.3 L1366.0,537.6 L1365.0,535.8 L1364.0,534.1 L1363.0,532.3 L1362.0,530.6 L1361.0,528.8 L1360.0,527.1 L1359.0,525.4 L1358.0,523.6 L1357.0,521.9 L1356.0,520.2 L1355.0,518.4 L1354.0,516.7 L1353.0,515.0 L1352.0,513.3 L1351.0,511.5 L1350.0,509.8 L1349.0,508.1 L1348.0,506.4 L1347.0,504.7 L1346.0,503.0 L1345.0,501.2 L1344.0,499.5 L1343.0,497.8 L1342.0,496.1 L1341.0,494.4 L1340.0,492.7 L1339.0,491.0 L1338.0,489.3 L1337.0,487.7 L1336.0,486.0 L1335.0,484.3 L1334.0,482.6 L1333.0,480.9 L1332.0,479.2 L1331.0,477.6 L1330.0,475.9 L1329.0,474.2 L1328.0,472.5 L1327.0,470.9 L1326.0,469.2 L1325.0,467.5 L1324.0,465.9 L1323.0,464.2 L1322.0,462.6 L1321.0,460.9 L1320.0,459.3 L1319.0,457.6 L1318.0,456.0 L1317.0,454.3 L1316.0,452.7 L1315.0,451.0 L1314.0,449.4 L1313.0,447.8 L1312.0,446.1 L1311.0,444.5 L1310.0,442.9 L1309.0,441.3 L1308.0,439.6 L1307.0,438.0 L1306.0,436.4 L1305.0,434.8 L1304.0,433.2 L1303.0,431.6 L1302.0,430.0 L1301.0,428.4 L1300.0,426.8 L1299.0,425.2 L1298.0,423.6 L1297.0,422.0 L1296.0,420.4 L1295.0,418.8 L1294.0,417.2 L1293.0,415.6 L1292.0,414.0 L1291.0,412.5 L1290.0,410.9 L1289.0,409.3 L1288.0,407.7 L1287.0,406.2 L1286.0,404.6 L1285.0,403.1 L1284.0,401.5 L1283.0,399.9 L1282.0,398.4 L1281.0,396.8 L1280.0,395.3 L1279.0,393.8 L1278.0,392.2 L1277.0,390.7 L1276.0,389.1 L1275.0,387.6 L1274.0,386.1 L1273.0,384.6 L1272.0,383.0 L1271.0,381.5 L1270.0,380.0 L1269.0,378.5 L1268.0,377.0 L1267.0,375.5 L1266.0,373.9 L1265.0,372.4 L1264.0,370.9 L1263.0,369.5 L1262.0,368.0 L1261.0,366.5 L1260.0,365.0 L1259.0,363.5 L1258.0,362.0 L1257.0,360.5 L1256.0,359.1 L1255.0,357.6 L1254.0,356.1 L1253.0,354.7 L1252.0,353.2 L1251.0,351.7 L1250.0,350.3 L1249.0,348.8 L1248.0,347.4 L1247.0,345.9 L1246.0,344.5 L1245.0,343.0 L1244.0,341.6 L1243.0,340.2 L1242.0,338.7 L1241.0,337.3 L1240.0,335.9 L1239.0,334.5 L1238.0,333.1 L1237.0,331.6 L1236.0,330.2 L1235.0,328.8 L1234.0,327.4 L1233.0,326.0 L1232.0,324.6 L1231.0,323.2 L1230.0,321.9 L1229.0,320.5 L1228.0,319.1 L1227.0,317.7 L1226.0,316.3 L1225.0,315.0 L1224.0,313.6 L1223.0,312.2 L1222.0,310.9 L1221.0,309.5 L1220.0,308.1 L1219.0,306.8 L1218.0,305.5 L1217.0,304.1 L1216.0,302.8 L1215.0,301.4 L1214.0,300.1 L1213.0,298.8 L1212.0,297.4 L1211.0,296.1 L1210.0,294.8 L1209.0,293.5 L1208.0,292.2 L1207.0,290.9 L1206.0,289.6 L1205.0,288.3 L1204.0,287.0 L1203.0,285.7 L1202.0,284.4 L1201.0,283.1 L1200.0,281.8 L1199.0,280.6 L1198.0,279.3 L1197.0,278.0 L1196.0,276.8 L1195.0,275.5 L1194.0,274.2 L1193.0,273.0 L1192.0,271.7 L1191.0,270.5 L1190.0,269.2 L1189.0,268.0 L1188.0,266.8 L1187.0,265.5 L1186.0,264.3 L1185.0,263.1 L1184.0,261.9 L1183.0,260.7 L1182.0,259.5 L1181.0,258.3 L1180.0,257.1 L1179.0,255.9 L1178.0,254.7 L1177.0,253.5 L1176.0,252.3 L1175.0,251.1 L1174.0,249.9 L1173.0,248.8 L1172.0,247.6 L1171.0,246.4 L1170.0,245.3 L1169.0,244.1 L1168.0,243.0 L1167.0,241.8 L1166.0,240.7 L1165.0,239.6 L1164.0,238.4 L1163.0,237.3 L1162.0,236.2 L1161.0,235.0 L1160.0,233.9 L1159.0,232.8 L1158.0,231.7 L1157.0,230.6 L1156.0,229.5 L1155.0,228.4 L1154.0,227.3 L1153.0,226.2 L1152.0,225.2 L1151.0,224.1 L1150.0,223.0 L1149.0,221.9 L1148.0,220.9 L1147.0,219.8 L1146.0,218.8 L1145.0,217.7 L1144.0,216.7 L1143.0,215.6 L1142.0,214.6 L1141.0,213.6 L1140.0,212.5 L1139.0,211.5 L1138.0,210.5 L1137.0,209.5 L1136.0,208.5 L1135.0,207.5 L1134.0,206.5 L1133.0,205.5 L1132.0,204.5 L1131.0,203.5 L1130.0,202.5 L1129.0,201.6 L1128.0,200.6 L1127.0,199.6 L1126.0,198.7 L1125.0,197.7 L1124.0,196.8 L1123.0,195.8 L1122.0,194.9 L1121.0,193.9 L1120.0,193.0 L1119.0,192.1 L1118.0,191.2 L1117.0,190.2 L1116.0,189.3 L1115.0,188.4 L1114.0,187.5 L1113.0,186.6 L1112.0,185.7 L1111.0,184.8 L1110.0,184.0 L1109.0,183.1 L1108.0,182.2 L1107.0,181.4 L1106.0,180.5 L1105.0,179.6 L1104.0,178.8 L1103.0,177.9 L1102.0,177.1 L1101.0,176.3 L1100.0,175.4 L1099.0,174.6 L1098.0,173.8 L1097.0,173.0 L1096.0,172.2 L1095.0,171.3 L1094.0,170.5 L1093.0,169.8 L1092.0,169.0 L1091.0,168.2 L1090.0,167.4 L1089.0,166.6 L1088.0,165.9 L1087.0,165.1 L1086.0,164.3 L1085.0,163.6 L1084.0,162.8 L1083.0,162.1 L1082.0,161.3 L1081.0,160.6 L1080.0,159.9 L1079.0,159.2 L1078.0,158.5 L1077.0,157.7 L1076.0,157.0 L1075.0,156.3 L1074.0,155.6 L1073.0,154.9 L1072.0,154.1 L1071.0,153.4 L1070.0,152.6 L1069.0,151.9 L1068.0,151.1 L1067.0,150.4 L1066.0,149.6 L1065.0,148.9 L1064.0,148.1 L1063.0,147.4 L1062.0,146.7 L1061.0,145.9 L1060.0,145.2 L1059.0,144.6 L1058.0,143.9 L1057.0,143.2 L1056.0,142.6 L1055.0,142.0 L1054.0,141.4 L1053.0,140.8 L1052.0,140.2 L1051.0,139.6 L1050.0,139.1 L1049.0,138.6 L1048.0,138.1 L1047.0,137.6 L1046.0,137.2 L1045.0,136.8 L1044.0,136.5 L1043.0,136.1 L1042.0,135.8 L1041.0,135.5 L1040.0,135.1 L1039.0,134.9 L1038.0,134.6 L1037.0,134.3 L1036.0,134.1 L1035.0,133.8 L1034.0,133.6 L1033.0,133.4 L1032.0,133.3 L1031.0,133.1 L1030.0,132.9 L1029.0,132.8 L1028.0,132.7 L1027.0,132.6 L1026.0,132.6 L1025.0,132.6 L1024.0,132.6 L1023.0,132.6 L1022.0,132.6 L1021.0,132.6 L1020.0,132.6 L1019.0,132.6 L1018.0,132.6 L1017.0,132.6 L1016.0,132.5 L1015.0,132.5 L1014.0,132.5 L1013.0,132.4 L1012.0,132.3 L1011.0,132.2 L1010.0,132.1 L1009.0,131.9 L1008.0,131.6 L1007.0,131.3 L1006.0,130.9 L1005.0,130.3 L1004.0,129.7 L1003.0,129.0 L1002.0,128.3 L1001.0,127.4 L1000.0,126.5 L999.0,125.6 L998.0,124.7 L997.0,123.8 L996.0,122.9 L995.0,122.0 L994.0,121.1 L993.0,120.3 L992.0,119.6 L991.0,118.9 L990.0,118.3 L989.0,117.7 L988.0,117.2 L987.0,116.8 L986.0,116.5 L985.0,116.1 L984.0,115.9 L983.0,115.6 L982.0,115.4 L981.0,115.2 L980.0,115.0 L979.0,114.8 L978.0,114.6 L977.0,114.5 L976.0,114.3 L975.0,114.1 L974.0,113.9 L973.0,113.7 L972.0,113.6 L971.0,113.4 L970.0,113.3 L969.0,113.1 L968.0,113.0 L967.0,112.9 L966.0,112.8 L965.0,112.7 L964.0,112.6 L963.0,112.6 L962.0,112.6 L961.0,112.6 L960.0,112.7 L959.0,112.7 L958.0,112.8 L957.0,112.8 L956.0,112.9 L955.0,113.0 L954.0,113.1 L953.0,113.2 L952.0,113.3 L951.0,113.4 L950.0,113.5 L949.0,113.6 L948.0,113.7 L947.0,113.8 L946.0,114.0 L945.0,114.1 L944.0,114.2 L943.0,114.4 L942.0,114.5 L941.0,114.7 L940.0,114.8 L939.0,115.0 L938.0,115.2 L937.0,115.3 L936.0,115.5 L935.0,115.7 L934.0,115.9 L933.0,116.0 L932.0,116.2 L931.0,116.4 L930.0,116.6 L929.0,116.8 L928.0,117.0 L927.0,117.2 L926.0,117.4 L925.0,117.6 L924.0,117.9 L923.0,118.1 L922.0,118.3 L921.0,118.5 L920.0,118.8 L919.0,119.0 L918.0,119.2 L917.0,119.5 L916.0,119.7 L915.0,120.0 L914.0,120.3 L913.0,120.5 L912.0,120.8 L911.0,121.1 L910.0,121.3 L909.0,121.6 L908.0,121.9 L907.0,122.2 L906.0,122.5 L905.0,122.8 L904.0,123.1 L903.0,123.4 L902.0,123.7 L901.0,124.0 L900.0,124.4 L899.0,124.7 L898.0,125.0 L897.0,125.4 L896.0,125.7 L895.0,126.1 L894.0,126.4 L893.0,126.8 L892.0,127.2 L891.0,127.6 L890.0,127.9 L889.0,128.3 L888.0,128.7 L887.0,129.1 L886.0,129.6 L885.0,130.0 L884.0,130.4 L883.0,130.8 L882.0,131.3 L881.0,131.7 L880.0,132.2 L879.0,132.6 L878.0,133.1 L877.0,133.6 L876.0,134.1 L875.0,134.6 L874.0,135.1 L873.0,135.6 L872.0,136.1 L871.0,136.6 L870.0,137.1 L869.0,137.7 L868.0,138.2 L867.0,138.8 L866.0,139.3 L865.0,139.9 L864.0,140.5 L863.0,141.1 L862.0,141.7 L861.0,142.3 L860.0,142.9 L859.0,143.5 L858.0,144.1 L857.0,144.8 L856.0,145.4 L855.0,146.1 L854.0,146.7 L853.0,147.4 L852.0,148.1 L851.0,148.8 L850.0,149.5 L849.0,150.2 L848.0,150.9 L847.0,151.6 L846.0,152.4 L845.0,153.1 L844.0,153.9 L843.0,154.6 L842.0,155.4 L841.0,156.2 L840.0,157.0 L839.0,157.8 L838.0,158.6 L837.0,159.4 L836.0,160.2 L835.0,161.1 L834.0,161.9 L833.0,162.7 L832.0,163.6 L831.0,164.5 L830.0,165.4 L829.0,166.2 L828.0,167.1 L827.0,168.0 L826.0,168.9 L825.0,169.9 L824.0,170.8 L823.0,171.7 L822.0,172.7 L821.0,173.6 L820.0,174.6 L819.0,175.6 L818.0,176.5 L817.0,177.5 L816.0,178.6 L815.0,179.6 L814.0,180.6 L813.0,181.6 L812.0,182.7 L811.0,183.8 L810.0,184.8 L809.0,185.9 L808.0,187.0 L807.0,188.0 L806.0,189.1 L805.0,190.2 L804.0,191.3 L803.0,192.5 L802.0,193.6 L801.0,194.7 L800.0,195.8 L799.0,197.0 L798.0,198.1 L797.0,199.3 L796.0,200.4 L795.0,201.6 L794.0,202.8 L793.0,204.0 L792.0,205.1 L791.0,206.3 L790.0,207.5 L789.0,208.7 L788.0,209.9 L787.0,211.2 L786.0,212.4 L785.0,213.6 L784.0,214.8 L783.0,216.1 L782.0,217.3 L781.0,218.6 L780.0,219.8 L779.0,221.1 L778.0,222.3 L777.0,223.6 L776.0,224.8 L775.0,226.1 L774.0,227.4 L773.0,228.7 L772.0,230.0 L771.0,231.3 L770.0,232.5 L769.0,233.8 L768.0,235.1 L767.0,236.4 L766.0,237.8 L765.0,239.1 L764.0,240.4 L763.0,241.7 L762.0,243.0 L761.0,244.3 L760.0,245.7 L759.0,247.0 L758.0,248.3 L757.0,249.7 L756.0,251.0 L755.0,252.3 L754.0,253.7 L753.0,255.0 L752.0,256.4 L751.0,257.7 L750.0,259.1 L749.0,260.4 L748.0,261.8 L747.0,263.1 L746.0,264.5 L745.0,265.8 L744.0,267.2 L743.0,268.5 L742.0,269.9 L741.0,271.3 L740.0,272.6 L739.0,274.0 L738.0,275.4 L737.0,276.7 L736.0,278.1 L735.0,279.5 L734.0,280.8 L733.0,282.2 L732.0,283.6 L731.0,284.9 L730.0,286.3 L729.0,287.7 L728.0,289.0 L727.0,290.4 L726.0,291.8 L725.0,293.2 L724.0,294.5 L723.0,295.9 L722.0,297.3 L721.0,298.6 L720.0,300.0 L719.0,301.4 L718.0,302.8 L717.0,304.1 L716.0,305.5 L715.0,306.9 L714.0,308.2 L713.0,309.6 L712.0,311.0 L711.0,312.4 L710.0,313.7 L709.0,315.1 L708.0,316.5 L707.0,317.9 L706.0,319.2 L705.0,320.6 L704.0,322.0 L703.0,323.3 L702.0,324.7 L701.0,326.1 L700.0,327.5 L699.0,328.8 L698.0,330.2 L697.0,331.6 L696.0,332.9 L695.0,334.3 L694.0,335.7 L693.0,337.1 L692.0,338.4 L691.0,339.8 L690.0,341.2 L689.0,342.6 L688.0,343.9 L687.0,345.3 L686.0,346.7 L685.0,348.1 L684.0,349.5 L683.0,350.8 L682.0,352.2 L681.0,353.6 L680.0,355.0 L679.0,356.4 L678.0,357.8 L677.0,359.1 L676.0,360.5 L675.0,361.9 L674.0,363.3 L673.0,364.7 L672.0,366.1 L671.0,367.5 L670.0,368.9 L669.0,370.3 L668.0,371.7 L667.0,373.1 L666.0,374.5 L665.0,375.9 L664.0,377.4 L663.0,378.8 L662.0,380.2 L661.0,381.6 L660.0,383.0 L659.0,384.5 L658.0,385.9 L657.0,387.3 L656.0,388.8 L655.0,390.2 L654.0,391.7 L653.0,393.1 L652.0,394.6 L651.0,396.0 L650.0,397.5 L649.0,399.0 L648.0,400.5 L647.0,401.9 L646.0,403.4 L645.0,404.9 L644.0,406.4 L643.0,407.9 L642.0,409.4 L641.0,410.9 L640.0,412.4 L639.0,414.0 L638.0,415.5 L637.0,417.0 L636.0,418.6 L635.0,420.1 L634.0,421.7 L633.0,423.2 L632.0,424.8 L631.0,426.4 L630.0,428.0 L629.0,429.6 L628.0,431.1 L627.0,432.8 L626.0,434.4 L625.0,436.0 L624.0,437.6 L623.0,439.2 L622.0,440.9 L621.0,442.5 L620.0,444.2 L619.0,445.8 L618.0,447.5 L617.0,449.2 L616.0,450.9 L615.0,452.6 L614.0,454.3 L613.0,456.0 L612.0,457.7 L611.0,459.5 L610.0,461.2 L609.0,462.9 L608.0,464.7 L607.0,466.5 L606.0,468.2 L605.0,470.0 L604.0,471.8 L603.0,473.6 L602.0,475.4 L601.0,477.2 L600.0,479.1 L599.0,480.9 L598.0,482.7 L597.0,484.6 L596.0,486.4 L595.0,488.3 L594.0,490.2 L593.0,492.1 L592.0,494.0 L591.0,495.8 L590.0,497.8 L589.0,499.7 L588.0,501.6 L587.0,503.5 L586.0,505.4 L585.0,507.4 L584.0,509.3 L583.0,511.3 L582.0,513.2 L581.0,515.2 L580.0,517.2 L579.0,519.1 L578.0,521.1 L577.0,523.1 L576.0,525.1 L575.0,527.1 L574.0,529.1 L573.0,531.1 L572.0,533.1 L571.0,535.1 L570.0,537.1 L569.0,539.1 L568.0,541.1 L567.0,543.1 L566.0,545.1 L565.0,547.0 L564.0,549.0 L563.0,551.0 L562.0,552.9 L561.0,554.9 L560.0,556.9 L559.0,558.8 L558.0,560.8 L557.0,562.8 L556.0,564.7 L555.0,566.7 L554.0,568.7 L553.0,570.7 L552.0,572.6 L551.0,574.6 L550.0,576.7 L549.0,578.7 L548.0,580.7 L547.0,582.7 L546.0,584.8 L545.0,586.8 L544.0,588.9 L543.0,590.9 L542.0,592.9 L541.0,594.9 L540.0,596.9 L539.0,598.9 L538.0,600.9 L537.0,603.0 L536.0,605.0 L535.0,607.0 L534.0,609.1 L533.0,611.2 L532.0,613.2 L531.0,615.3 L530.0,617.5 L529.0,619.6 L528.0,621.8 L527.0,623.9 L526.0,626.1 L525.0,628.4 L524.0,630.6 L523.0,632.9 L522.0,635.2 L521.0,637.5 L520.0,639.9 L519.0,642.2 L518.0,644.6 L517.0,647.1 L516.0,649.6 L515.0,652.1 L514.0,654.7 L513.0,657.4 L512.0,660.1 L511.0,663.0 L510.0,665.8 L509.0,668.8 L508.0,671.6 L507.0,674.5 L506.0,677.3 L505.0,680.1 L504.0,682.8 L503.0,685.4 L502.0,687.8 L501.0,690.1 L500.0,692.2 L499.0,694.3 L498.0,696.2 L497.0,698.1 L496.0,699.9 L495.0,701.7 L494.0,703.4 L493.0,705.2 L492.0,707.0 L491.0,708.7 L490.0,710.5 L489.0,712.3 L488.0,714.1 L487.0,715.9 L486.0,717.6 L485.0,719.4 L484.0,721.1 L483.0,722.9 L482.0,724.6 L481.0,726.4 L480.0,728.1 L479.0,729.9 L478.0,731.6 L477.0,733.4 L476.0,735.1 L475.0,736.8 L474.0,738.6 L473.0,740.4 L472.0,742.2 L471.0,744.0 L470.0,745.8 L469.0,747.7 L468.0,749.7 L467.0,751.6 L466.0,753.6 L465.0,755.7 L464.0,757.8 L463.0,759.9 L462.0,762.0 L461.0,764.2 L460.0,766.5 L459.0,768.7 L458.0,771.0 L457.0,773.3 L456.0,775.6 L455.0,777.9 L454.0,780.3 L453.0,782.7 L452.0,785.1 L451.0,787.6 L450.0,790.0 L449.0,792.5 L448.0,795.0 L447.0,797.6 L446.0,800.1 L445.0,802.6 L444.0,805.2 L443.0,807.7 L442.0,810.3 L441.0,812.8 L440.0,815.3 L439.0,817.8 L438.0,820.2 L437.0,822.6 L436.0,825.0 L435.0,827.4 L434.0,829.7 L433.0,832.0 L432.0,834.3 L431.0,836.5 L430.0,838.7 L429.0,840.9 L428.0,843.1 L427.0,845.2 L426.0,847.3 L425.0,849.4 L424.0,851.5 L423.0,853.5 L422.0,855.5 L421.0,857.6 L420.0,859.5 L419.0,861.5 L418.0,863.5 L417.0,865.4 L416.0,866.8 L415.0,867.8 L414.0,868.6 L413.0,868.6 L412.0,868.6 L411.0,868.6 L410.0,868.6 L409.0,868.6 L408.0,868.6Z" fill="#ff4040"/>
</g>
<rect x="286.7" y="15.7" width="9" height="1174.8" fill="#0000ff"/>
<rect x="280.0" y="1181.0" width="11.2" height="9" fill="#0000ff"/>
<rect x="268.4" y="1064.5" width="22.8" height="9" fill="#0000ff"/>
<rect x="280.0" y="948.0" width="11.2" height="9" fill="#0000ff"/>
<rect x="268.4" y="831.6" width="22.8" height="9" fill="#0000ff"/>
<rect x="280.0" y="715.1" width="11.2" height="9" fill="#0000ff"/>
<rect x="268.4" y="598.6" width="22.8" height="9" fill="#0000ff"/>
<rect x="280.0" y="482.1" width="11.2" height="9" fill="#0000ff"/>
<rect x="268.4" y="365.7" width="22.8" height="9" fill="#0000ff"/>
<rect x="280.0" y="249.2" width="11.2" height="9" fill="#0000ff"/>
<rect x="268.4" y="132.7" width="22.8" height="9" fill="#0000ff"/>
<rect x="280.0" y="16.2" width="11.2" height="9" fill="#0000ff"/>
<rect x="1736.5" y="15.7" width="9.4" height="1174.8" fill="#ff4040"/>
<rect x="1741.2" y="1181.7" width="11.2" height="9" fill="#ff4040"/>
<rect x="1741.2" y="1084.5" width="24.8" height="9" fill="#ff4040"/>
<rect x="1741.2" y="987.3" width="11.2" height="9" fill="#ff4040"/>
<rect x="1741.2" y="890.1" width="24.8" height="9" fill="#ff4040"/>
<rect x="1741.2" y="792.9" width="11.2" height="9" fill="#ff4040"/>
<rect x="1741.2" y="695.7" width="24.8" height="9" fill="#ff4040"/>
<rect x="1741.2" y="598.5" width="11.2" height="9" fill="#ff4040"/>
<rect x="1741.2" y="501.3" width="24.8" height="9" fill="#ff4040"/>
<rect x="1741.2" y="404.1" width="11.2" height="9" fill="#ff4040"/>
<rect x="1741.2" y="306.9" width="24.8" height="9" fill="#ff4040"/>
<rect x="1741.2" y="209.7" width="11.2" height="9" fill="#ff4040"/>
<rect x="1741.2" y="112.5" width="24.8" height="9" fill="#ff4040"/>
<rect x="1741.2" y="15.3" width="11.2" height="9" fill="#ff4040"/>
<rect x="289.1" y="15.7" width="1447.5" height="9" fill="#000"/>
<rect x="295.6" y="1181.5" width="1441.0" height="9" fill="#000"/>
<rect x="287.1" y="1190.3" width="9" height="6.9" fill="#000"/>
<rect x="287.1" y="20.2" width="9" height="11.1" fill="#000"/>
<rect x="408.0" y="1190.3" width="9" height="18.3" fill="#000"/>
<rect x="408.0" y="24.5" width="9" height="18.3" fill="#000"/>
<rect x="528.9" y="1190.3" width="9" height="6.9" fill="#000"/>
<rect x="528.9" y="24.5" width="9" height="6.8" fill="#000"/>
<rect x="649.8" y="1190.3" width="9" height="18.3" fill="#000"/>
<rect x="649.8" y="24.5" width="9" height="18.3" fill="#000"/>
<rect x="770.8" y="1190.3" width="9" height="6.9" fill="#000"/>
<rect x="770.8" y="24.5" width="9" height="6.8" fill="#000"/>
<rect x="891.7" y="1190.3" width="9" height="18.3" fill="#000"/>
<rect x="891.7" y="24.5" width="9" height="18.3" fill="#000"/>
<rect x="1012.6" y="1190.3" width="9" height="6.9" fill="#000"/>
<rect x="1012.6" y="24.5" width="9" height="6.8" fill="#000"/>
<rect x="1133.5" y="1190.3" width="9" height="18.3" fill="#000"/>
<rect x="1133.5" y="24.5" width="9" height="18.3" fill="#000"/>
<rect x="1254.4" y="1190.3" width="9" height="6.9" fill="#000"/>
<rect x="1254.4" y="24.5" width="9" height="6.8" fill="#000"/>
<rect x="1375.4" y="1190.3" width="9" height="18.3" fill="#000"/>
<rect x="1375.4" y="24.5" width="9" height="18.3" fill="#000"/>
<rect x="1496.3" y="1190.3" width="9" height="6.9" fill="#000"/>
<rect x="1496.3" y="24.5" width="9" height="6.8" fill="#000"/>
<rect x="1617.2" y="1190.3" width="9" height="18.3" fill="#000"/>
<rect x="1617.2" y="24.5" width="9" height="18.3" fill="#000"/>
<rect x="1738.1" y="1190.3" width="9" height="6.9" fill="#000"/>
<rect x="840" y="369.0" width="133.2" height="6.9" fill="#0000ff"/>
<polygon points="831,372.4 878.7,362.1 878.7,382.6" fill="#0000ff"/>
<rect x="1450.4" y="636.9" width="143.6" height="6.9" fill="#ff0000"/>
<polygon points="1604,640.3 1556.2,630.1 1556.2,650.4" fill="#ff0000"/>
<rect x="1492.3" y="39.3" width="225.0" height="173.3" fill="#fff" stroke="#000" stroke-width="2.2"/>
<rect x="1497.9" y="80.9" width="155.2" height="9" fill="#0000ff"/>
<rect x="1497.9" y="162.1" width="155.2" height="9" fill="#ff4040"/>
<rect x="1617.2" y="20.2" width="9" height="22.6" fill="#000"/>
<g font-family="'Liberation Serif', 'Times New Roman', serif" shape-rendering="geometricPrecision" text-rendering="geometricPrecision">
<text x="138.3" y="1086.2" font-size="64" fill="#0000ff">0.00</text>
<text x="138.3" y="853.2" font-size="64" fill="#0000ff">0.01</text>
<text x="138.3" y="620.3" font-size="64" fill="#0000ff">0.02</text>
<text x="138.3" y="387.4" font-size="64" fill="#0000ff">0.03</text>
<text x="138.3" y="154.4" font-size="64" fill="#0000ff">0.04</text>
<text x="1780.8" y="1106.2" font-size="64" fill="#ff4040">0.72</text>
<text x="1780.8" y="911.8" font-size="64" fill="#ff4040">0.74</text>
<text x="1780.8" y="717.4" font-size="64" fill="#ff4040">0.76</text>
<text x="1780.8" y="523.0" font-size="64" fill="#ff4040">0.78</text>
<text x="1780.8" y="328.6" font-size="64" fill="#ff4040">0.80</text>
<text x="1780.8" y="134.2" font-size="64" fill="#ff4040">0.82</text>
<text x="355.3" y="1274.6" font-size="64" fill="#000" letter-spacing="1">1.50</text>
<text x="597.1" y="1274.6" font-size="64" fill="#000" letter-spacing="1">1.52</text>
<text x="839.0" y="1274.6" font-size="64" fill="#000" letter-spacing="1">1.54</text>
<text x="1080.8" y="1274.6" font-size="64" fill="#000" letter-spacing="1">1.56</text>
<text x="1322.7" y="1274.6" font-size="64" fill="#000" letter-spacing="1">1.58</text>
<text x="1564.5" y="1274.6" font-size="64" fill="#000" letter-spacing="1">1.60</text>
<text transform="translate(1662.6,105.4) scale(1.11,1.0)" font-size="64" fill="#000">R</text>
<text transform="translate(1664.0,188.7) scale(1.07,1.0)" font-size="64" fill="#000">T</text>
<text id="xt" transform="translate(1017.3,1420.0) scale(0.9945,1)" font-size="100" fill="#000" text-anchor="middle">wavelength(μm)</text>
<text id="yl" transform="translate(93,603.4) rotate(-90) scale(0.994,1.053)" font-size="104" fill="#000" text-anchor="middle">R</text>
<text id="yr" transform="translate(1995,590.6) rotate(-90) scale(0.947,1.04)" font-size="104" fill="#000" text-anchor="middle">T</text>
</g>
</svg>
</body></html>
